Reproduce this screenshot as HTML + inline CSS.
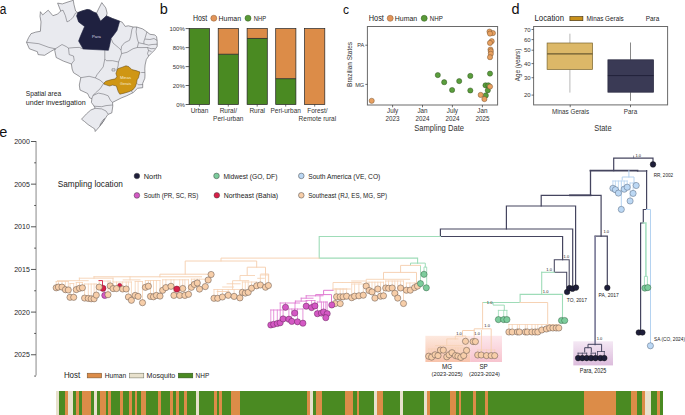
<!DOCTYPE html><html><head><meta charset="utf-8"><style>html,body{margin:0;padding:0;background:#fff;overflow:hidden}svg{display:block}text{font-family:"Liberation Sans",sans-serif}</style></head><body>
<svg width="685" height="415" viewBox="0 0 685 415">
<defs>
<linearGradient id="gMG" x1="0" y1="0" x2="0" y2="1"><stop offset="0" stop-color="#fde9df"/><stop offset="1" stop-color="#f8c3ab"/></linearGradient>
<linearGradient id="gSP" x1="0" y1="0" x2="0" y2="1"><stop offset="0" stop-color="#fde8ec"/><stop offset="1" stop-color="#f7c4cf"/></linearGradient>
<linearGradient id="gPA" x1="0" y1="0" x2="0" y2="1"><stop offset="0" stop-color="#f4e8f4"/><stop offset="1" stop-color="#dcbcdc"/></linearGradient>
</defs>
<rect width="685" height="415" fill="#fff"/>
<polygon points="40.4,11.7 42.7,14.9 48.2,10.2 52.9,15.7 57.6,14.1 60.7,11 57.6,3.1 62.3,3.9 67,2.3 71.7,0.8 73.2,0 74,4.7 75.6,11 77.9,12.6 82,11 87.2,9.5 89.9,9.9 93.2,11.9 96.5,13.2 99,8 101.8,2.6 105.8,7.9 107.1,13.2 106.4,15.9 112.4,18.5 119.7,21.2 122.2,22.2 125.2,26.4 128.3,25.8 133.1,27 136.7,27 142.7,28.9 146.9,31.9 150,34.3 154.8,34.9 156.6,36.7 157.2,41.5 157.2,46.3 154.8,49.9 151.1,53.6 148.7,56 146.3,59.6 145.1,65 144.8,68.9 145,75 144.8,78.3 142.7,83.3 142.7,87.7 137.5,88.3 133.2,92.6 126.7,95.8 121.2,98 112.5,102.4 112.8,106 111.8,112.9 108.2,114.3 106.8,116 104,120.5 100,126 97,129.5 95.2,131.5 94.8,129 92.5,127.5 88,124.5 84.5,121.5 81.5,119.2 86.5,113.8 90.8,110 95.2,108.3 94.1,106.2 91.4,102.4 91.9,98.6 89.8,98 88.7,95.8 87.6,93.5 80,90 79.3,85 80.8,77.7 79.3,76.3 73.5,72.7 72.1,69 71.4,64 63.4,61.1 56.2,57.5 54.7,50.3 55.4,48.8 50.4,51.7 44.6,55.3 38.1,54.6 37.4,51.7 29.4,48.8 26.5,42.3 28.6,37.6 31,33.7 35.7,32.1 40.4,31.3 41,21.9 40,16.4" fill="#e9eaef" stroke="#5a5a60" stroke-width="0.6" stroke-linejoin="round"/>
<polyline points="60.7,11 63,10.2 65.4,15.7 67,21.9 70,20.4 73.2,17.2 75.6,13 77.9,12.6" stroke="#5a5a60" stroke-width="0.5" fill="none" stroke-linejoin="round"/>
<polyline points="96.5,13.2 100.5,21.2 106.4,15.9" stroke="#5a5a60" stroke-width="0.5" fill="none" stroke-linejoin="round"/>
<polyline points="26.5,42.3 38.8,43.7 48.9,47.4 55.4,48.8" stroke="#5a5a60" stroke-width="0.5" fill="none" stroke-linejoin="round"/>
<polyline points="55.4,48.8 62,44.5 66.3,46.6 68.5,48.1 74,47.6 79.3,47.4 83.2,49" stroke="#5a5a60" stroke-width="0.5" fill="none" stroke-linejoin="round"/>
<polyline points="68.5,48.1 69.2,54.6 73.5,56 74.2,60.4 71.4,64" stroke="#5a5a60" stroke-width="0.5" fill="none" stroke-linejoin="round"/>
<polyline points="104.8,50.2 104.8,59.1 103.2,66.9 97,74.7 95.4,77.9 89.1,76.3 80.8,77.7" stroke="#5a5a60" stroke-width="0.5" fill="none" stroke-linejoin="round"/>
<polyline points="95.4,77.9 100.1,80.2 103.7,83.3" stroke="#5a5a60" stroke-width="0.5" fill="none" stroke-linejoin="round"/>
<polyline points="103.7,83.3 100.1,88.8 95.4,93 93,95.5 91.9,98.6" stroke="#5a5a60" stroke-width="0.5" fill="none" stroke-linejoin="round"/>
<polyline points="93,95.5 98.4,93.1 103.9,94.2 108.2,95.8 110.4,100.2 112.5,102.4" stroke="#5a5a60" stroke-width="0.5" fill="none" stroke-linejoin="round"/>
<polyline points="104.8,59.1 106.4,60.7 112.6,60.7 118.5,62" stroke="#5a5a60" stroke-width="0.5" fill="none" stroke-linejoin="round"/>
<polyline points="111,38.4 113,43 118.7,47.8 121,50.1 121.6,53.6 120.4,57 118.5,62 118.1,66 116.7,70.3" stroke="#5a5a60" stroke-width="0.5" fill="none" stroke-linejoin="round"/>
<polyline points="133.1,27 131.9,29.5 130.7,36.7 129.5,40.3 124.6,42.7 121.6,46.3 121,50.1" stroke="#5a5a60" stroke-width="0.5" fill="none" stroke-linejoin="round"/>
<polyline points="136.7,27 136.1,31.9 137.3,39.1 138.5,42.7 137.3,47.5 133.1,48.7 127,52.3 121.6,53.6" stroke="#5a5a60" stroke-width="0.5" fill="none" stroke-linejoin="round"/>
<polyline points="146.9,31.9 145.1,37.9 143.9,41.5 143.9,43.9" stroke="#5a5a60" stroke-width="0.5" fill="none" stroke-linejoin="round"/>
<polyline points="138.5,42.7 143.9,43.9 148.7,45.1 152,44.5 157.2,44.2" stroke="#5a5a60" stroke-width="0.5" fill="none" stroke-linejoin="round"/>
<polyline points="145.1,39.1 150,39.5 154,38.5 157.2,40.5" stroke="#5a5a60" stroke-width="0.5" fill="none" stroke-linejoin="round"/>
<polyline points="137.3,47.5 141,47.6 147.5,47.5 151.1,48.7 154.8,48.5" stroke="#5a5a60" stroke-width="0.5" fill="none" stroke-linejoin="round"/>
<polyline points="147.5,47.5 148.5,50.5 151.5,51.5" stroke="#5a5a60" stroke-width="0.5" fill="none" stroke-linejoin="round"/>
<polyline points="148.5,50.5 147.5,53.6 148.7,56" stroke="#5a5a60" stroke-width="0.5" fill="none" stroke-linejoin="round"/>
<polyline points="141.2,72.5 144.8,72.5" stroke="#5a5a60" stroke-width="0.5" fill="none" stroke-linejoin="round"/>
<polyline points="136.9,83.3 138.3,84.8 142.7,84.5" stroke="#5a5a60" stroke-width="0.5" fill="none" stroke-linejoin="round"/>
<polyline points="131.1,91.3 133,92.5" stroke="#5a5a60" stroke-width="0.5" fill="none" stroke-linejoin="round"/>
<polyline points="94.1,106.2 101.7,106.7 106,105.6 111.5,105.1 112.7,105" stroke="#5a5a60" stroke-width="0.5" fill="none" stroke-linejoin="round"/>
<polyline points="95.2,108.3 101.7,108.9 106,111 108.2,114.3" stroke="#5a5a60" stroke-width="0.5" fill="none" stroke-linejoin="round"/>
<polyline points="112,68.8 115,68.8 115,71 112,71 112,68.8" stroke="#5a5a60" stroke-width="0.5" fill="none" stroke-linejoin="round"/>
<polyline points="104.5,118.5 103.5,121 101.5,124 99.8,125.5 101,123 102.5,120.5 104.5,118.5" stroke="#5a5a60" stroke-width="0.5" fill="none" stroke-linejoin="round"/>
<polygon points="77.9,12.6 82,11 87.2,9.5 89.9,9.9 93.2,11.9 96.5,13.2 100.5,21.2 106.4,15.9 112.4,18.5 119.7,21.2 117,30.5 113.7,35.1 111,38.4 109.7,45 108.4,50.3 83.2,49 78.6,41.1 80.6,35.8 84.6,26.5 78.6,21.9 76.6,15.9" fill="#1f2140" stroke="#1f2140" stroke-width="0.6" stroke-linejoin="round"/>
<polygon points="103.9,83.1 105.8,81.2 110.6,79.8 115.4,78.8 116.9,76.4 115.9,73.5 116.9,70.6 117.8,68.7 122.2,67.2 126,65.8 128.9,66.7 131.8,69.6 136.1,70.6 140,72 139,75.4 138.5,77.8 137.1,79.8 136.6,83.1 135.2,87 132.8,89.9 128.9,91.8 124.1,93.2 119.8,94.2 118.3,91.8 117.3,88.9 116.4,86 112.5,85.1 109.6,86 106.7,85.1 103.9,84.1" fill="#cf9614" stroke="#5a4010" stroke-width="0.5" stroke-linejoin="round"/>
<text x="96.5" y="38.3" font-size="4.2" fill="#d8d8e0" text-anchor="middle" >Para</text>
<text x="125.5" y="79.4" font-size="4.3" fill="#f6ecd6" text-anchor="middle" textLength="10.9" lengthAdjust="spacingAndGlyphs" >Minas</text>
<text x="125.6" y="84.6" font-size="4.3" fill="#f6ecd6" text-anchor="middle" textLength="11.1" lengthAdjust="spacingAndGlyphs" >Gerais</text>
<text x="25.8" y="96.4" font-size="7.6" fill="#222" text-anchor="start" textLength="35.3" lengthAdjust="spacingAndGlyphs" >Spatial area</text>
<text x="25.8" y="105.1" font-size="7.6" fill="#222" text-anchor="start" textLength="59.8" lengthAdjust="spacingAndGlyphs" >under investigation</text>
<text x="-0.2" y="13.8" font-size="14.0" fill="#111" text-anchor="start" textLength="6.6" lengthAdjust="spacingAndGlyphs" >a</text>
<text x="159.8" y="13.7" font-size="14.5" fill="#111" text-anchor="start" >b</text>
<text x="192.9" y="21" font-size="8.2" fill="#222" text-anchor="start" textLength="14.4" lengthAdjust="spacingAndGlyphs" >Host</text>
<circle cx="213.8" cy="18.2" r="3.0" fill="#e3955a" stroke="#8a5a30" stroke-width="0.5"/>
<text x="218.6" y="21" font-size="7.6" fill="#222" text-anchor="start" textLength="22.4" lengthAdjust="spacingAndGlyphs" >Human</text>
<circle cx="248" cy="18.2" r="3.0" fill="#5a9a38" stroke="#2a5a18" stroke-width="0.5"/>
<text x="253.8" y="21" font-size="7.6" fill="#222" text-anchor="start" textLength="12.3" lengthAdjust="spacingAndGlyphs" >NHP</text>
<line x1="189.2" y1="28.6" x2="189.2" y2="104.6" stroke="#333" stroke-width="0.8"/>
<line x1="185.6" y1="28.6" x2="189.2" y2="28.6" stroke="#333" stroke-width="0.8"/>
<text x="184.8" y="30.700000000000003" font-size="6.0" fill="#333" text-anchor="end" >100%</text>
<line x1="185.6" y1="47.6" x2="189.2" y2="47.6" stroke="#333" stroke-width="0.8"/>
<text x="184.8" y="49.7" font-size="6.0" fill="#333" text-anchor="end" >80%</text>
<line x1="185.6" y1="66.6" x2="189.2" y2="66.6" stroke="#333" stroke-width="0.8"/>
<text x="184.8" y="68.69999999999999" font-size="6.0" fill="#333" text-anchor="end" >50%</text>
<line x1="185.6" y1="85.5" x2="189.2" y2="85.5" stroke="#333" stroke-width="0.8"/>
<text x="184.8" y="87.6" font-size="6.0" fill="#333" text-anchor="end" >20%</text>
<line x1="185.6" y1="104.5" x2="189.2" y2="104.5" stroke="#333" stroke-width="0.8"/>
<text x="184.8" y="106.6" font-size="6.0" fill="#333" text-anchor="end" >0%</text>
<rect x="189.3" y="28.6" width="20.2" height="75.9" fill="#4a8a22" stroke="none" stroke-width="0.6" />
<rect x="189.3" y="28.6" width="20.2" height="75.9" fill="none" stroke="#222" stroke-width="0.7" />
<rect x="218.2" y="28.6" width="20.2" height="25.654200000000003" fill="#dc8c48" stroke="none" stroke-width="0.6" />
<rect x="218.2" y="54.254200000000004" width="20.2" height="50.2458" fill="#4a8a22" stroke="none" stroke-width="0.6" />
<rect x="218.2" y="28.6" width="20.2" height="75.9" fill="none" stroke="#222" stroke-width="0.7" />
<line x1="218.2" y1="54.254200000000004" x2="238.39999999999998" y2="54.254200000000004" stroke="#222" stroke-width="0.8"/>
<rect x="247.1" y="28.6" width="20.2" height="9.867" fill="#dc8c48" stroke="none" stroke-width="0.6" />
<rect x="247.1" y="38.467" width="20.2" height="66.033" fill="#4a8a22" stroke="none" stroke-width="0.6" />
<rect x="247.1" y="28.6" width="20.2" height="75.9" fill="none" stroke="#222" stroke-width="0.7" />
<line x1="247.1" y1="38.467" x2="267.3" y2="38.467" stroke="#222" stroke-width="0.8"/>
<rect x="275.7" y="28.6" width="20.2" height="50.09400000000001" fill="#dc8c48" stroke="none" stroke-width="0.6" />
<rect x="275.7" y="78.69400000000002" width="20.2" height="25.805999999999997" fill="#4a8a22" stroke="none" stroke-width="0.6" />
<rect x="275.7" y="28.6" width="20.2" height="75.9" fill="none" stroke="#222" stroke-width="0.7" />
<line x1="275.7" y1="78.69400000000002" x2="295.9" y2="78.69400000000002" stroke="#222" stroke-width="0.8"/>
<rect x="304.6" y="28.6" width="20.2" height="75.9" fill="#dc8c48" stroke="none" stroke-width="0.6" />
<rect x="304.6" y="28.6" width="20.2" height="75.9" fill="none" stroke="#222" stroke-width="0.7" />
<line x1="199.4" y1="104.6" x2="199.4" y2="106.6" stroke="#333" stroke-width="0.7"/>
<line x1="228.3" y1="104.6" x2="228.3" y2="106.6" stroke="#333" stroke-width="0.7"/>
<line x1="257.2" y1="104.6" x2="257.2" y2="106.6" stroke="#333" stroke-width="0.7"/>
<line x1="285.7" y1="104.6" x2="285.7" y2="106.6" stroke="#333" stroke-width="0.7"/>
<line x1="314.7" y1="104.6" x2="314.7" y2="106.6" stroke="#333" stroke-width="0.7"/>
<text x="199.5" y="113.3" font-size="6.5" fill="#333" text-anchor="middle" >Urban</text>
<text x="228.3" y="113.3" font-size="6.5" fill="#333" text-anchor="middle" >Rural/</text>
<text x="228.3" y="121.0" font-size="6.5" fill="#333" text-anchor="middle" >Peri-urban</text>
<text x="257.2" y="113.3" font-size="6.5" fill="#333" text-anchor="middle" >Rural</text>
<text x="285.7" y="113.3" font-size="6.5" fill="#333" text-anchor="middle" >Peri-urban</text>
<text x="317.4" y="113.3" font-size="6.5" fill="#333" text-anchor="middle" >Forest/</text>
<text x="317.4" y="121.0" font-size="6.5" fill="#333" text-anchor="middle" >Remote rural</text>
<text x="343.1" y="13.9" font-size="13.6" fill="#111" text-anchor="start" textLength="6.0" lengthAdjust="spacingAndGlyphs" >c</text>
<text x="368.7" y="21" font-size="8.2" fill="#222" text-anchor="start" textLength="15.2" lengthAdjust="spacingAndGlyphs" >Host</text>
<circle cx="390.2" cy="18.3" r="3.0" fill="#e3955a" stroke="#8a5a30" stroke-width="0.5"/>
<text x="394.8" y="21" font-size="7.6" fill="#222" text-anchor="start" textLength="22.4" lengthAdjust="spacingAndGlyphs" >Human</text>
<circle cx="424.2" cy="18.3" r="3.0" fill="#5a9a38" stroke="#2a5a18" stroke-width="0.5"/>
<text x="429.8" y="21" font-size="7.6" fill="#222" text-anchor="start" textLength="13.0" lengthAdjust="spacingAndGlyphs" >NHP</text>
<rect x="367.4" y="26.5" width="130.2" height="78.5" fill="none" stroke="#6a6a6a" stroke-width="1.0" />
<line x1="365.3" y1="45.2" x2="367.4" y2="45.2" stroke="#333" stroke-width="0.7"/>
<text x="364.2" y="47.3" font-size="5.6" fill="#333" text-anchor="end" >PA</text>
<line x1="365.3" y1="84.4" x2="367.4" y2="84.4" stroke="#333" stroke-width="0.7"/>
<text x="364.2" y="86.5" font-size="5.6" fill="#333" text-anchor="end" >MG</text>
<text x="0" y="0" font-size="7.3" fill="#333" text-anchor="middle" textLength="45" lengthAdjust="spacingAndGlyphs" transform="translate(351.8,64.4) rotate(-90)">Brazilian States</text>
<line x1="392.6" y1="105" x2="392.6" y2="107.3" stroke="#333" stroke-width="0.7"/>
<text x="392.6" y="113.0" font-size="6.3" fill="#333" text-anchor="middle" >July</text>
<text x="392.6" y="121.0" font-size="6.3" fill="#333" text-anchor="middle" >2023</text>
<line x1="422.5" y1="105" x2="422.5" y2="107.3" stroke="#333" stroke-width="0.7"/>
<text x="422.5" y="113.0" font-size="6.3" fill="#333" text-anchor="middle" >Jan</text>
<text x="422.5" y="121.0" font-size="6.3" fill="#333" text-anchor="middle" >2024</text>
<line x1="452.4" y1="105" x2="452.4" y2="107.3" stroke="#333" stroke-width="0.7"/>
<text x="452.4" y="113.0" font-size="6.3" fill="#333" text-anchor="middle" >July</text>
<text x="452.4" y="121.0" font-size="6.3" fill="#333" text-anchor="middle" >2024</text>
<line x1="482.4" y1="105" x2="482.4" y2="107.3" stroke="#333" stroke-width="0.7"/>
<text x="482.4" y="113.0" font-size="6.3" fill="#333" text-anchor="middle" >Jan</text>
<text x="482.4" y="121.0" font-size="6.3" fill="#333" text-anchor="middle" >2025</text>
<text x="439.1" y="131.1" font-size="8.5" fill="#333" text-anchor="middle" textLength="49.8" lengthAdjust="spacingAndGlyphs" >Sampling Date</text>
<circle cx="437.8" cy="75.1" r="2.6" fill="#5a9e3c" stroke="#2a4a1a" stroke-width="0.45"/>
<circle cx="444.2" cy="82.2" r="2.6" fill="#5a9e3c" stroke="#2a4a1a" stroke-width="0.45"/>
<circle cx="459.2" cy="81.1" r="2.6" fill="#5a9e3c" stroke="#2a4a1a" stroke-width="0.45"/>
<circle cx="470.3" cy="75.9" r="2.6" fill="#5a9e3c" stroke="#2a4a1a" stroke-width="0.45"/>
<circle cx="452.1" cy="90" r="2.6" fill="#5a9e3c" stroke="#2a4a1a" stroke-width="0.45"/>
<circle cx="470.3" cy="90.5" r="2.6" fill="#5a9e3c" stroke="#2a4a1a" stroke-width="0.45"/>
<circle cx="490" cy="73.6" r="2.6" fill="#5a9e3c" stroke="#2a4a1a" stroke-width="0.45"/>
<circle cx="485.5" cy="85.3" r="2.6" fill="#5a9e3c" stroke="#2a4a1a" stroke-width="0.45"/>
<circle cx="488.3" cy="85.3" r="2.6" fill="#5a9e3c" stroke="#2a4a1a" stroke-width="0.45"/>
<circle cx="487.8" cy="90.3" r="2.6" fill="#5a9e3c" stroke="#2a4a1a" stroke-width="0.45"/>
<circle cx="485.8" cy="95.4" r="2.6" fill="#5a9e3c" stroke="#2a4a1a" stroke-width="0.45"/>
<circle cx="371.7" cy="100.8" r="2.6" fill="#e8a060" stroke="#6a4a2a" stroke-width="0.45"/>
<circle cx="489.5" cy="31.6" r="2.6" fill="#e8a060" stroke="#6a4a2a" stroke-width="0.45"/>
<circle cx="492.9" cy="33.1" r="2.6" fill="#e8a060" stroke="#6a4a2a" stroke-width="0.45"/>
<circle cx="490" cy="33.6" r="2.6" fill="#e8a060" stroke="#6a4a2a" stroke-width="0.45"/>
<circle cx="491.7" cy="41.2" r="2.6" fill="#e8a060" stroke="#6a4a2a" stroke-width="0.45"/>
<circle cx="490" cy="42.9" r="2.6" fill="#e8a060" stroke="#6a4a2a" stroke-width="0.45"/>
<circle cx="490.5" cy="49.6" r="2.6" fill="#e8a060" stroke="#6a4a2a" stroke-width="0.45"/>
<circle cx="490.8" cy="51.3" r="2.6" fill="#e8a060" stroke="#6a4a2a" stroke-width="0.45"/>
<circle cx="490.8" cy="53.8" r="2.6" fill="#e8a060" stroke="#6a4a2a" stroke-width="0.45"/>
<circle cx="490" cy="57.2" r="2.6" fill="#e8a060" stroke="#6a4a2a" stroke-width="0.45"/>
<circle cx="490" cy="86.6" r="2.6" fill="#e8a060" stroke="#6a4a2a" stroke-width="0.45"/>
<circle cx="480.7" cy="94.9" r="2.6" fill="#e8a060" stroke="#6a4a2a" stroke-width="0.45"/>
<circle cx="484.4" cy="99.1" r="2.6" fill="#e8a060" stroke="#6a4a2a" stroke-width="0.45"/>
<text x="511.4" y="13.8" font-size="14.5" fill="#111" text-anchor="start" >d</text>
<text x="534.5" y="21" font-size="8.2" fill="#222" text-anchor="start" textLength="29.5" lengthAdjust="spacingAndGlyphs" >Location</text>
<rect x="569.9" y="16.5" width="13" height="4.2" fill="#c8901a" stroke="#3a2a10" stroke-width="0.6" />
<text x="586.5" y="21" font-size="7.6" fill="#222" text-anchor="start" textLength="37.2" lengthAdjust="spacingAndGlyphs" >Minas Gerais</text>
<text x="645.7" y="21" font-size="7.6" fill="#222" text-anchor="start" textLength="13.5" lengthAdjust="spacingAndGlyphs" >Para</text>
<rect x="533.6" y="26.5" width="134.0" height="78.4" fill="none" stroke="#6a6a6a" stroke-width="1.0" />
<line x1="531.5" y1="29.5" x2="533.6" y2="29.5" stroke="#333" stroke-width="0.7"/>
<text x="530.6" y="31.6" font-size="6.0" fill="#333" text-anchor="end" >70</text>
<line x1="531.5" y1="39.6" x2="533.6" y2="39.6" stroke="#333" stroke-width="0.7"/>
<text x="530.6" y="41.7" font-size="6.0" fill="#333" text-anchor="end" >60</text>
<line x1="531.5" y1="50.2" x2="533.6" y2="50.2" stroke="#333" stroke-width="0.7"/>
<text x="530.6" y="52.300000000000004" font-size="6.0" fill="#333" text-anchor="end" >50</text>
<line x1="531.5" y1="63.6" x2="533.6" y2="63.6" stroke="#333" stroke-width="0.7"/>
<text x="530.6" y="65.7" font-size="6.0" fill="#333" text-anchor="end" >40</text>
<line x1="531.5" y1="77.7" x2="533.6" y2="77.7" stroke="#333" stroke-width="0.7"/>
<text x="530.6" y="79.8" font-size="6.0" fill="#333" text-anchor="end" >30</text>
<line x1="531.5" y1="95.1" x2="533.6" y2="95.1" stroke="#333" stroke-width="0.7"/>
<text x="530.6" y="97.19999999999999" font-size="6.0" fill="#333" text-anchor="end" >20</text>
<text x="0" y="0" font-size="7.3" fill="#333" text-anchor="middle" textLength="32.6" lengthAdjust="spacingAndGlyphs" transform="translate(520.4,65) rotate(-90)">Age (years)</text>
<line x1="569.9" y1="33.7" x2="569.9" y2="43" stroke="#999" stroke-width="0.7"/>
<line x1="569.9" y1="69.5" x2="569.9" y2="92.6" stroke="#999" stroke-width="0.7"/>
<rect x="547.1" y="43" width="45.5" height="26.5" fill="#dcb868" stroke="#7a6530" stroke-width="0.7" />
<line x1="547.1" y1="53.9" x2="592.6" y2="53.9" stroke="#6a5a30" stroke-width="1.1"/>
<line x1="630.5" y1="42.5" x2="630.5" y2="59.8" stroke="#555" stroke-width="0.7"/>
<line x1="630.5" y1="92.2" x2="630.5" y2="100.9" stroke="#555" stroke-width="0.7"/>
<rect x="607.9" y="59.8" width="45.7" height="32.4" fill="#3a3a55" stroke="#2a2a40" stroke-width="0.7" />
<line x1="607.9" y1="75.6" x2="653.6" y2="75.6" stroke="#22223a" stroke-width="1.0"/>
<line x1="570.2" y1="104.9" x2="570.2" y2="107.2" stroke="#333" stroke-width="0.7"/>
<line x1="630.5" y1="104.9" x2="630.5" y2="107.2" stroke="#333" stroke-width="0.7"/>
<text x="570.5" y="113.6" font-size="6.3" fill="#333" text-anchor="middle" >Minas Gerais</text>
<text x="630.5" y="113.6" font-size="6.3" fill="#333" text-anchor="middle" >Para</text>
<text x="602.9" y="131" font-size="8.3" fill="#333" text-anchor="middle" textLength="17.4" lengthAdjust="spacingAndGlyphs" >State</text>
<text x="-0.8" y="136.9" font-size="14.5" fill="#111" text-anchor="start" >e</text>
<line x1="36.1" y1="141" x2="36.1" y2="375.5" stroke="#bdbdbd" stroke-width="1.8"/>
<line x1="31" y1="141.5" x2="36" y2="141.5" stroke="#444" stroke-width="0.9"/>
<text x="29.8" y="144.1" font-size="7.6" fill="#222" text-anchor="end" textLength="15.6" lengthAdjust="spacingAndGlyphs" >2000</text>
<line x1="31" y1="184.15" x2="36" y2="184.15" stroke="#444" stroke-width="0.9"/>
<text x="29.8" y="186.75" font-size="7.6" fill="#222" text-anchor="end" textLength="15.6" lengthAdjust="spacingAndGlyphs" >2005</text>
<line x1="31" y1="226.8" x2="36" y2="226.8" stroke="#444" stroke-width="0.9"/>
<text x="29.8" y="229.4" font-size="7.6" fill="#222" text-anchor="end" textLength="15.6" lengthAdjust="spacingAndGlyphs" >2010</text>
<line x1="31" y1="269.45" x2="36" y2="269.45" stroke="#444" stroke-width="0.9"/>
<text x="29.8" y="272.05" font-size="7.6" fill="#222" text-anchor="end" textLength="15.6" lengthAdjust="spacingAndGlyphs" >2015</text>
<line x1="31" y1="312.1" x2="36" y2="312.1" stroke="#444" stroke-width="0.9"/>
<text x="29.8" y="314.70000000000005" font-size="7.6" fill="#222" text-anchor="end" textLength="15.6" lengthAdjust="spacingAndGlyphs" >2020</text>
<line x1="31" y1="354.75" x2="36" y2="354.75" stroke="#444" stroke-width="0.9"/>
<text x="29.8" y="357.35" font-size="7.6" fill="#222" text-anchor="end" textLength="15.6" lengthAdjust="spacingAndGlyphs" >2025</text>
<line x1="34.2" y1="162.825" x2="36" y2="162.825" stroke="#444" stroke-width="0.9"/>
<line x1="34.2" y1="205.475" x2="36" y2="205.475" stroke="#444" stroke-width="0.9"/>
<line x1="34.2" y1="248.125" x2="36" y2="248.125" stroke="#444" stroke-width="0.9"/>
<line x1="34.2" y1="290.775" x2="36" y2="290.775" stroke="#444" stroke-width="0.9"/>
<line x1="34.2" y1="333.42499999999995" x2="36" y2="333.42499999999995" stroke="#444" stroke-width="0.9"/>
<line x1="34.2" y1="376.075" x2="36" y2="376.075" stroke="#444" stroke-width="0.9"/>
<text x="57.7" y="187.2" font-size="8.8" fill="#222" text-anchor="start" textLength="65.2" lengthAdjust="spacingAndGlyphs" >Sampling location</text>
<circle cx="136.9" cy="176" r="2.8" fill="#1e1e3a" stroke="#444" stroke-width="0.5"/>
<text x="143.8" y="179.0" font-size="7.2" fill="#222" text-anchor="start" textLength="17.9" lengthAdjust="spacingAndGlyphs" >North</text>
<circle cx="136.9" cy="195.4" r="2.8" fill="#d458c4" stroke="#444" stroke-width="0.5"/>
<text x="143.8" y="198.4" font-size="7.2" fill="#222" text-anchor="start" textLength="54.5" lengthAdjust="spacingAndGlyphs" >South (PR, SC, RS)</text>
<circle cx="216.5" cy="175.9" r="2.8" fill="#7ccc9c" stroke="#444" stroke-width="0.5"/>
<text x="223.4" y="178.9" font-size="7.2" fill="#222" text-anchor="start" textLength="54.0" lengthAdjust="spacingAndGlyphs" >Midwest (GO, DF)</text>
<circle cx="216.8" cy="195.3" r="2.8" fill="#d81f48" stroke="#444" stroke-width="0.5"/>
<text x="223.70000000000002" y="198.3" font-size="7.2" fill="#222" text-anchor="start" textLength="54.5" lengthAdjust="spacingAndGlyphs" >Northeast (Bahia)</text>
<circle cx="301.3" cy="175.9" r="2.8" fill="#bcd8f4" stroke="#444" stroke-width="0.5"/>
<text x="308.2" y="178.9" font-size="7.2" fill="#222" text-anchor="start" textLength="72.1" lengthAdjust="spacingAndGlyphs" >South America (VE, CO)</text>
<circle cx="301.3" cy="195.3" r="2.8" fill="#f7cea9" stroke="#444" stroke-width="0.5"/>
<text x="308.2" y="198.3" font-size="7.2" fill="#222" text-anchor="start" textLength="78.9" lengthAdjust="spacingAndGlyphs" >Southeast (RJ, ES, MG, SP)</text>
<rect x="425.4" y="335.8" width="44.7" height="26.2" fill="url(#gMG)" stroke="none" stroke-width="0.6" />
<rect x="470.1" y="335.8" width="31.9" height="26.2" fill="url(#gSP)" stroke="none" stroke-width="0.6" />
<rect x="573.3" y="341.3" width="39.7" height="24.1" fill="url(#gPA)" stroke="none" stroke-width="0.6" />
<polyline points="613.7,170.6 613.7,158.2 653,158.2 653,164" stroke="#45455f" stroke-width="1.2" fill="none" stroke-linejoin="miter" stroke-linecap="square"/>
<line x1="633.6" y1="155.6" x2="633.6" y2="158.2" stroke="#45455f" stroke-width="0.6"/>
<polyline points="590.5,170.6 637.5,170.6" stroke="#45455f" stroke-width="1.8" fill="none" stroke-linejoin="miter" stroke-linecap="square"/>
<polyline points="637.5,171 646.6,171" stroke="#45455f" stroke-width="1.2" fill="none" stroke-linejoin="miter" stroke-linecap="square"/>
<polyline points="590.5,170.6 590.5,195.3" stroke="#45455f" stroke-width="1.3" fill="none" stroke-linejoin="miter" stroke-linecap="square"/>
<polyline points="541.2,206 541.2,195.3 601.1,195.3 601.1,236.1" stroke="#45455f" stroke-width="1.2" fill="none" stroke-linejoin="miter" stroke-linecap="square"/>
<polyline points="570,195.3 590.5,195.3" stroke="#45455f" stroke-width="1.8" fill="none" stroke-linejoin="miter" stroke-linecap="square"/>
<polyline points="595.1,236.1 607.3,236.1 607.3,287" stroke="#45455f" stroke-width="1.2" fill="none" stroke-linejoin="miter" stroke-linecap="square"/>
<polyline points="595.1,344.3 595.1,236.6" stroke="#7e7e9a" stroke-width="1.7" fill="none" stroke-linejoin="miter" stroke-linecap="square"/>
<polyline points="575.6,287 575.6,206 506.4,206 506.4,229" stroke="#45455f" stroke-width="1.2" fill="none" stroke-linejoin="miter" stroke-linecap="square"/>
<polyline points="572.7,288 572.7,229 440.4,229 440.4,236.5 562.6,236.5 562.6,259.7" stroke="#45455f" stroke-width="1.2" fill="none" stroke-linejoin="miter" stroke-linecap="square"/>
<polyline points="569.2,288 569.2,259.7 554.3,259.7 554.3,272.3 566.7,272.3 566.7,291" stroke="#45455f" stroke-width="1.05" fill="none" stroke-linejoin="miter" stroke-linecap="square"/>
<polyline points="646.6,170.6 646.6,209.5 643.3,209.5 643.3,223 640.6,223 640.6,332" stroke="#45455f" stroke-width="1.2" fill="none" stroke-linejoin="miter" stroke-linecap="square"/>
<polyline points="588,347.7 588,344.3 601.6,344.3 601.6,351.5" stroke="#45455f" stroke-width="1.0" fill="none" stroke-linejoin="miter" stroke-linecap="square"/>
<polyline points="584.7,352 584.7,347.7 591.3,347.7 591.3,352" stroke="#45455f" stroke-width="1.0" fill="none" stroke-linejoin="miter" stroke-linecap="square"/>
<polyline points="578.1,353.2 586.7,353.2" stroke="#45455f" stroke-width="0.8" fill="none" stroke-linejoin="miter" stroke-linecap="square"/>
<polyline points="578.1,353.2 578.1,358" stroke="#45455f" stroke-width="0.8" fill="none" stroke-linejoin="miter" stroke-linecap="square"/>
<polyline points="582.3,353.2 582.3,358" stroke="#45455f" stroke-width="0.8" fill="none" stroke-linejoin="miter" stroke-linecap="square"/>
<polyline points="586.7,353.2 586.7,358" stroke="#45455f" stroke-width="0.8" fill="none" stroke-linejoin="miter" stroke-linecap="square"/>
<polyline points="591.1,353.2 595.5,353.2" stroke="#45455f" stroke-width="0.8" fill="none" stroke-linejoin="miter" stroke-linecap="square"/>
<polyline points="591.1,353.2 591.1,358" stroke="#45455f" stroke-width="0.8" fill="none" stroke-linejoin="miter" stroke-linecap="square"/>
<polyline points="595.5,353.2 595.5,358" stroke="#45455f" stroke-width="0.8" fill="none" stroke-linejoin="miter" stroke-linecap="square"/>
<polyline points="597.5,351.5 604.3,351.5" stroke="#45455f" stroke-width="0.8" fill="none" stroke-linejoin="miter" stroke-linecap="square"/>
<polyline points="597.5,351.5 597.5,358" stroke="#45455f" stroke-width="0.8" fill="none" stroke-linejoin="miter" stroke-linecap="square"/>
<polyline points="604.3,351.5 604.3,358" stroke="#45455f" stroke-width="0.8" fill="none" stroke-linejoin="miter" stroke-linecap="square"/>
<polyline points="628.9,170.6 628.9,177" stroke="#b4d2f0" stroke-width="1.0" fill="none" stroke-linejoin="miter" stroke-linecap="square"/>
<polyline points="622.2,180 622.2,177 634,177 634,183" stroke="#b4d2f0" stroke-width="1.0" fill="none" stroke-linejoin="miter" stroke-linecap="square"/>
<polyline points="630.1,183 636.2,183" stroke="#b4d2f0" stroke-width="0.8" fill="none" stroke-linejoin="miter" stroke-linecap="square"/>
<polyline points="630.1,183 630.1,201" stroke="#b4d2f0" stroke-width="0.8" fill="none" stroke-linejoin="miter" stroke-linecap="square"/>
<polyline points="633.1,183 633.1,193.4" stroke="#b4d2f0" stroke-width="0.8" fill="none" stroke-linejoin="miter" stroke-linecap="square"/>
<polyline points="636.2,183 636.2,185.5" stroke="#b4d2f0" stroke-width="0.8" fill="none" stroke-linejoin="miter" stroke-linecap="square"/>
<polyline points="612.9,181 627.2,181" stroke="#b4d2f0" stroke-width="0.8" fill="none" stroke-linejoin="miter" stroke-linecap="square"/>
<polyline points="612.9,181 612.9,188.3" stroke="#b4d2f0" stroke-width="0.8" fill="none" stroke-linejoin="miter" stroke-linecap="square"/>
<polyline points="615.4,181 615.4,189.7" stroke="#b4d2f0" stroke-width="0.8" fill="none" stroke-linejoin="miter" stroke-linecap="square"/>
<polyline points="618.4,181 618.4,193.1" stroke="#b4d2f0" stroke-width="0.8" fill="none" stroke-linejoin="miter" stroke-linecap="square"/>
<polyline points="624.2,181 624.2,189.2" stroke="#b4d2f0" stroke-width="0.8" fill="none" stroke-linejoin="miter" stroke-linecap="square"/>
<polyline points="627.2,181 627.2,187.2" stroke="#b4d2f0" stroke-width="0.8" fill="none" stroke-linejoin="miter" stroke-linecap="square"/>
<polyline points="621.3,181 621.3,209" stroke="#b4d2f0" stroke-width="1.0" fill="none" stroke-linejoin="miter" stroke-linecap="square"/>
<polyline points="646.6,209.5 650.5,209.5 650.5,345" stroke="#b4d2f0" stroke-width="1.0" fill="none" stroke-linejoin="miter" stroke-linecap="square"/>
<polyline points="440.4,236.5 319.2,236.5 319.2,258.1 417.6,258.1 417.6,263.1" stroke="#9edcb8" stroke-width="1.1" fill="none" stroke-linejoin="miter" stroke-linecap="square"/>
<polyline points="410.5,265.5 410.5,263.1 425.3,263.1 425.3,267" stroke="#9edcb8" stroke-width="1.0" fill="none" stroke-linejoin="miter" stroke-linecap="square"/>
<polyline points="424,274 424,267 426.7,267 426.7,287" stroke="#9edcb8" stroke-width="0.9" fill="none" stroke-linejoin="miter" stroke-linecap="square"/>
<polyline points="420.5,265.6 420.5,283" stroke="#9edcb8" stroke-width="0.9" fill="none" stroke-linejoin="miter" stroke-linecap="square"/>
<polyline points="541.7,272.3 554.3,272.3" stroke="#9edcb8" stroke-width="1.1" fill="none" stroke-linejoin="miter" stroke-linecap="square"/>
<polyline points="520.1,302.5 520.1,294.4 562.5,294.4 562.5,318" stroke="#9edcb8" stroke-width="1.1" fill="none" stroke-linejoin="miter" stroke-linecap="square"/>
<polyline points="541.7,272.3 541.7,294.4" stroke="#9edcb8" stroke-width="1.1" fill="none" stroke-linejoin="miter" stroke-linecap="square"/>
<polyline points="482.6,302.5 520.1,302.5" stroke="#9edcb8" stroke-width="1.1" fill="none" stroke-linejoin="miter" stroke-linecap="square"/>
<polyline points="493.1,302.5 493.1,305.1 504.3,305.1 504.3,310.4" stroke="#9edcb8" stroke-width="1.0" fill="none" stroke-linejoin="miter" stroke-linecap="square"/>
<polyline points="498.4,310.4 506.9,310.4" stroke="#9edcb8" stroke-width="0.8" fill="none" stroke-linejoin="miter" stroke-linecap="square"/>
<polyline points="498.4,310.4 498.4,319" stroke="#9edcb8" stroke-width="0.8" fill="none" stroke-linejoin="miter" stroke-linecap="square"/>
<polyline points="503.7,310.4 503.7,319" stroke="#9edcb8" stroke-width="0.8" fill="none" stroke-linejoin="miter" stroke-linecap="square"/>
<polyline points="506.9,310.4 506.9,319" stroke="#9edcb8" stroke-width="0.8" fill="none" stroke-linejoin="miter" stroke-linecap="square"/>
<polyline points="643.3,223 645.9,223 645.9,276.3" stroke="#a6e0c0" stroke-width="1.6" fill="none" stroke-linejoin="miter" stroke-linecap="square"/>
<polyline points="644.4,285 644.4,276.3 647.4,276.3 647.4,285" stroke="#a6e0c0" stroke-width="1.0" fill="none" stroke-linejoin="miter" stroke-linecap="square"/>
<polyline points="221,261 221,258.1 319.2,258.1" stroke="#f6d2b4" stroke-width="1.0" fill="none" stroke-linejoin="miter" stroke-linecap="square"/>
<polyline points="185.2,274.2 185.2,261 256.7,261 256.7,267.2" stroke="#f6d2b4" stroke-width="1.0" fill="none" stroke-linejoin="miter" stroke-linecap="square"/>
<polyline points="247.2,275.5 247.2,267.2 265.5,267.2 265.5,275" stroke="#f6d2b4" stroke-width="1.0" fill="none" stroke-linejoin="miter" stroke-linecap="square"/>
<polyline points="240,280.5 240,275.5 254.5,275.5" stroke="#f6d2b4" stroke-width="0.9" fill="none" stroke-linejoin="miter" stroke-linecap="square"/>
<polyline points="232.6,283.5 232.6,280.7 248.7,280.7" stroke="#f6d2b4" stroke-width="0.9" fill="none" stroke-linejoin="miter" stroke-linecap="square"/>
<polyline points="159.9,276.8 159.9,274.2 209.6,274.2 209.6,278" stroke="#f6d2b4" stroke-width="1.0" fill="none" stroke-linejoin="miter" stroke-linecap="square"/>
<polyline points="94,276.8 201.5,276.8" stroke="#f6d2b4" stroke-width="1.0" fill="none" stroke-linejoin="miter" stroke-linecap="square"/>
<polyline points="57.5,280.7 88.2,280.7" stroke="#f6d2b4" stroke-width="0.9" fill="none" stroke-linejoin="miter" stroke-linecap="square"/>
<polyline points="79.4,278.2 113,278.2" stroke="#f6d2b4" stroke-width="0.9" fill="none" stroke-linejoin="miter" stroke-linecap="square"/>
<polyline points="79.4,278.2 79.4,280.7" stroke="#f6d2b4" stroke-width="0.9" fill="none" stroke-linejoin="miter" stroke-linecap="square"/>
<polyline points="94,276.8 94,278.2" stroke="#f6d2b4" stroke-width="0.9" fill="none" stroke-linejoin="miter" stroke-linecap="square"/>
<polyline points="123.2,279.9 140,279.9" stroke="#f6d2b4" stroke-width="0.9" fill="none" stroke-linejoin="miter" stroke-linecap="square"/>
<polyline points="130,276.8 130,279.9" stroke="#f6d2b4" stroke-width="0.9" fill="none" stroke-linejoin="miter" stroke-linecap="square"/>
<polyline points="113,278.2 113,281.5" stroke="#f6d2b4" stroke-width="0.9" fill="none" stroke-linejoin="miter" stroke-linecap="square"/>
<polyline points="56.2,281.5 68.3,281.5" stroke="#f6d2b4" stroke-width="0.8" fill="none" stroke-linejoin="miter" stroke-linecap="square"/>
<polyline points="56.2,281.5 56.2,287.8" stroke="#f6d2b4" stroke-width="0.8" fill="none" stroke-linejoin="miter" stroke-linecap="square"/>
<polyline points="58.4,281.5 58.4,287.1" stroke="#f6d2b4" stroke-width="0.8" fill="none" stroke-linejoin="miter" stroke-linecap="square"/>
<polyline points="62,281.5 62,287.1" stroke="#f6d2b4" stroke-width="0.8" fill="none" stroke-linejoin="miter" stroke-linecap="square"/>
<polyline points="65.4,281.5 65.4,289.7" stroke="#f6d2b4" stroke-width="0.8" fill="none" stroke-linejoin="miter" stroke-linecap="square"/>
<polyline points="68.3,281.5 68.3,290" stroke="#f6d2b4" stroke-width="0.8" fill="none" stroke-linejoin="miter" stroke-linecap="square"/>
<polyline points="70,283.5 73.7,283.5" stroke="#f6d2b4" stroke-width="0.8" fill="none" stroke-linejoin="miter" stroke-linecap="square"/>
<polyline points="70,283.5 70,297.3" stroke="#f6d2b4" stroke-width="0.8" fill="none" stroke-linejoin="miter" stroke-linecap="square"/>
<polyline points="73.7,283.5 73.7,297.3" stroke="#f6d2b4" stroke-width="0.8" fill="none" stroke-linejoin="miter" stroke-linecap="square"/>
<polyline points="76.3,282.5 82.4,282.5" stroke="#f6d2b4" stroke-width="0.8" fill="none" stroke-linejoin="miter" stroke-linecap="square"/>
<polyline points="76.3,282.5 76.3,289.6" stroke="#f6d2b4" stroke-width="0.8" fill="none" stroke-linejoin="miter" stroke-linecap="square"/>
<polyline points="79.5,282.5 79.5,288.3" stroke="#f6d2b4" stroke-width="0.8" fill="none" stroke-linejoin="miter" stroke-linecap="square"/>
<polyline points="82.4,282.5 82.4,287.8" stroke="#f6d2b4" stroke-width="0.8" fill="none" stroke-linejoin="miter" stroke-linecap="square"/>
<polyline points="84.6,284 96.3,284" stroke="#f6d2b4" stroke-width="0.8" fill="none" stroke-linejoin="miter" stroke-linecap="square"/>
<polyline points="84.6,284 84.6,298.1" stroke="#f6d2b4" stroke-width="0.8" fill="none" stroke-linejoin="miter" stroke-linecap="square"/>
<polyline points="88.3,284 88.3,298.4" stroke="#f6d2b4" stroke-width="0.8" fill="none" stroke-linejoin="miter" stroke-linecap="square"/>
<polyline points="91.2,284 91.2,298.8" stroke="#f6d2b4" stroke-width="0.8" fill="none" stroke-linejoin="miter" stroke-linecap="square"/>
<polyline points="94.1,284 94.1,298.8" stroke="#f6d2b4" stroke-width="0.8" fill="none" stroke-linejoin="miter" stroke-linecap="square"/>
<polyline points="96.3,284 96.3,295.1" stroke="#f6d2b4" stroke-width="0.8" fill="none" stroke-linejoin="miter" stroke-linecap="square"/>
<polyline points="99.2,281 110.2,281" stroke="#f6d2b4" stroke-width="0.8" fill="none" stroke-linejoin="miter" stroke-linecap="square"/>
<polyline points="99.2,281 99.2,287.1" stroke="#f6d2b4" stroke-width="0.8" fill="none" stroke-linejoin="miter" stroke-linecap="square"/>
<polyline points="108,281 108,294.7" stroke="#f6d2b4" stroke-width="0.8" fill="none" stroke-linejoin="miter" stroke-linecap="square"/>
<polyline points="110.2,281 110.2,285.9" stroke="#f6d2b4" stroke-width="0.8" fill="none" stroke-linejoin="miter" stroke-linecap="square"/>
<polyline points="113.1,282 131.4,282" stroke="#f6d2b4" stroke-width="0.8" fill="none" stroke-linejoin="miter" stroke-linecap="square"/>
<polyline points="113.1,282 113.1,288.6" stroke="#f6d2b4" stroke-width="0.8" fill="none" stroke-linejoin="miter" stroke-linecap="square"/>
<polyline points="116.5,282 116.5,288.6" stroke="#f6d2b4" stroke-width="0.8" fill="none" stroke-linejoin="miter" stroke-linecap="square"/>
<polyline points="122.6,282 122.6,289" stroke="#f6d2b4" stroke-width="0.8" fill="none" stroke-linejoin="miter" stroke-linecap="square"/>
<polyline points="126.2,282 126.2,289" stroke="#f6d2b4" stroke-width="0.8" fill="none" stroke-linejoin="miter" stroke-linecap="square"/>
<polyline points="128.4,282 128.4,297" stroke="#f6d2b4" stroke-width="0.8" fill="none" stroke-linejoin="miter" stroke-linecap="square"/>
<polyline points="131.4,282 131.4,300.3" stroke="#f6d2b4" stroke-width="0.8" fill="none" stroke-linejoin="miter" stroke-linecap="square"/>
<polyline points="135.2,281.5 142.5,281.5" stroke="#f6d2b4" stroke-width="0.8" fill="none" stroke-linejoin="miter" stroke-linecap="square"/>
<polyline points="135.2,281.5 135.2,295.4" stroke="#f6d2b4" stroke-width="0.8" fill="none" stroke-linejoin="miter" stroke-linecap="square"/>
<polyline points="138.1,281.5 138.1,296.4" stroke="#f6d2b4" stroke-width="0.8" fill="none" stroke-linejoin="miter" stroke-linecap="square"/>
<polyline points="142.5,281.5 142.5,302.7" stroke="#f6d2b4" stroke-width="0.8" fill="none" stroke-linejoin="miter" stroke-linecap="square"/>
<polyline points="145.4,280.5 160,280.5" stroke="#f6d2b4" stroke-width="0.8" fill="none" stroke-linejoin="miter" stroke-linecap="square"/>
<polyline points="145.4,280.5 145.4,287.3" stroke="#f6d2b4" stroke-width="0.8" fill="none" stroke-linejoin="miter" stroke-linecap="square"/>
<polyline points="148.4,280.5 148.4,286.2" stroke="#f6d2b4" stroke-width="0.8" fill="none" stroke-linejoin="miter" stroke-linecap="square"/>
<polyline points="150.5,280.5 150.5,296.4" stroke="#f6d2b4" stroke-width="0.8" fill="none" stroke-linejoin="miter" stroke-linecap="square"/>
<polyline points="153.5,280.5 153.5,296.8" stroke="#f6d2b4" stroke-width="0.8" fill="none" stroke-linejoin="miter" stroke-linecap="square"/>
<polyline points="156.4,280.5 156.4,295.4" stroke="#f6d2b4" stroke-width="0.8" fill="none" stroke-linejoin="miter" stroke-linecap="square"/>
<polyline points="160,280.5 160,296.1" stroke="#f6d2b4" stroke-width="0.8" fill="none" stroke-linejoin="miter" stroke-linecap="square"/>
<polyline points="162.7,279.8 188.5,279.8" stroke="#f6d2b4" stroke-width="0.8" fill="none" stroke-linejoin="miter" stroke-linecap="square"/>
<polyline points="162.7,279.8 162.7,290.3" stroke="#f6d2b4" stroke-width="0.8" fill="none" stroke-linejoin="miter" stroke-linecap="square"/>
<polyline points="165.9,279.8 165.9,287.6" stroke="#f6d2b4" stroke-width="0.8" fill="none" stroke-linejoin="miter" stroke-linecap="square"/>
<polyline points="171,279.8 171,286.3" stroke="#f6d2b4" stroke-width="0.8" fill="none" stroke-linejoin="miter" stroke-linecap="square"/>
<polyline points="173.9,279.8 173.9,295.4" stroke="#f6d2b4" stroke-width="0.8" fill="none" stroke-linejoin="miter" stroke-linecap="square"/>
<polyline points="179.7,279.8 179.7,295.4" stroke="#f6d2b4" stroke-width="0.8" fill="none" stroke-linejoin="miter" stroke-linecap="square"/>
<polyline points="182.7,279.8 182.7,288.5" stroke="#f6d2b4" stroke-width="0.8" fill="none" stroke-linejoin="miter" stroke-linecap="square"/>
<polyline points="184.9,279.8 184.9,295.4" stroke="#f6d2b4" stroke-width="0.8" fill="none" stroke-linejoin="miter" stroke-linecap="square"/>
<polyline points="188.5,279.8 188.5,294.3" stroke="#f6d2b4" stroke-width="0.8" fill="none" stroke-linejoin="miter" stroke-linecap="square"/>
<polyline points="191.4,279.2 205.3,279.2" stroke="#f6d2b4" stroke-width="0.8" fill="none" stroke-linejoin="miter" stroke-linecap="square"/>
<polyline points="191.4,279.2 191.4,287.3" stroke="#f6d2b4" stroke-width="0.8" fill="none" stroke-linejoin="miter" stroke-linecap="square"/>
<polyline points="194.3,279.2 194.3,284.4" stroke="#f6d2b4" stroke-width="0.8" fill="none" stroke-linejoin="miter" stroke-linecap="square"/>
<polyline points="197.3,279.2 197.3,283" stroke="#f6d2b4" stroke-width="0.8" fill="none" stroke-linejoin="miter" stroke-linecap="square"/>
<polyline points="199.5,279.2 199.5,289.1" stroke="#f6d2b4" stroke-width="0.8" fill="none" stroke-linejoin="miter" stroke-linecap="square"/>
<polyline points="205.3,279.2 205.3,286.6" stroke="#f6d2b4" stroke-width="0.8" fill="none" stroke-linejoin="miter" stroke-linecap="square"/>
<polyline points="214,289.5 239.9,289.5" stroke="#f6d2b4" stroke-width="0.8" fill="none" stroke-linejoin="miter" stroke-linecap="square"/>
<polyline points="214,289.5 214,298.3" stroke="#f6d2b4" stroke-width="0.8" fill="none" stroke-linejoin="miter" stroke-linecap="square"/>
<polyline points="217.7,289.5 217.7,298.3" stroke="#f6d2b4" stroke-width="0.8" fill="none" stroke-linejoin="miter" stroke-linecap="square"/>
<polyline points="222.4,289.5 222.4,297" stroke="#f6d2b4" stroke-width="0.8" fill="none" stroke-linejoin="miter" stroke-linecap="square"/>
<polyline points="228.2,289.5 228.2,295.3" stroke="#f6d2b4" stroke-width="0.8" fill="none" stroke-linejoin="miter" stroke-linecap="square"/>
<polyline points="234.1,289.5 234.1,296.4" stroke="#f6d2b4" stroke-width="0.8" fill="none" stroke-linejoin="miter" stroke-linecap="square"/>
<polyline points="239.9,289.5 239.9,297.9" stroke="#f6d2b4" stroke-width="0.8" fill="none" stroke-linejoin="miter" stroke-linecap="square"/>
<polyline points="232.6,283.5 232.6,289.5" stroke="#f6d2b4" stroke-width="0.9" fill="none" stroke-linejoin="miter" stroke-linecap="square"/>
<polyline points="242.4,282 256.7,282" stroke="#f6d2b4" stroke-width="0.8" fill="none" stroke-linejoin="miter" stroke-linecap="square"/>
<polyline points="242.4,282 242.4,292.3" stroke="#f6d2b4" stroke-width="0.8" fill="none" stroke-linejoin="miter" stroke-linecap="square"/>
<polyline points="245.3,282 245.3,293.1" stroke="#f6d2b4" stroke-width="0.8" fill="none" stroke-linejoin="miter" stroke-linecap="square"/>
<polyline points="248.2,282 248.2,292.3" stroke="#f6d2b4" stroke-width="0.8" fill="none" stroke-linejoin="miter" stroke-linecap="square"/>
<polyline points="251.6,282 251.6,288.2" stroke="#f6d2b4" stroke-width="0.8" fill="none" stroke-linejoin="miter" stroke-linecap="square"/>
<polyline points="256.7,282 256.7,285.8" stroke="#f6d2b4" stroke-width="0.8" fill="none" stroke-linejoin="miter" stroke-linecap="square"/>
<polyline points="260.4,275 268.4,275" stroke="#f6d2b4" stroke-width="0.8" fill="none" stroke-linejoin="miter" stroke-linecap="square"/>
<polyline points="260.4,275 260.4,285" stroke="#f6d2b4" stroke-width="0.8" fill="none" stroke-linejoin="miter" stroke-linecap="square"/>
<polyline points="265.5,275 265.5,287.2" stroke="#f6d2b4" stroke-width="0.8" fill="none" stroke-linejoin="miter" stroke-linecap="square"/>
<polyline points="268.4,275 268.4,285.5" stroke="#f6d2b4" stroke-width="0.8" fill="none" stroke-linejoin="miter" stroke-linecap="square"/>
<polyline points="227.1,283.8 240.2,283.8" stroke="#f6d2b4" stroke-width="0.9" fill="none" stroke-linejoin="miter" stroke-linecap="square"/>
<polyline points="222.7,287 233.6,287" stroke="#f6d2b4" stroke-width="0.9" fill="none" stroke-linejoin="miter" stroke-linecap="square"/>
<polyline points="217.2,291.5 229.3,291.5" stroke="#f6d2b4" stroke-width="0.9" fill="none" stroke-linejoin="miter" stroke-linecap="square"/>
<polyline points="261,274 268.7,274 268.7,283" stroke="#f6d2b4" stroke-width="0.9" fill="none" stroke-linejoin="miter" stroke-linecap="square"/>
<polyline points="257.7,278.3 264.3,278.3" stroke="#f6d2b4" stroke-width="0.9" fill="none" stroke-linejoin="miter" stroke-linecap="square"/>
<polyline points="400.6,272.4 400.6,265.4 420.5,265.4" stroke="#f6d2b4" stroke-width="1.0" fill="none" stroke-linejoin="miter" stroke-linecap="square"/>
<polyline points="383.5,279.3 383.5,272.4 416.5,272.4 416.5,285" stroke="#f6d2b4" stroke-width="1.0" fill="none" stroke-linejoin="miter" stroke-linecap="square"/>
<polyline points="366.2,281 366.2,279.3 409.6,279.3" stroke="#f6d2b4" stroke-width="0.9" fill="none" stroke-linejoin="miter" stroke-linecap="square"/>
<polyline points="342.3,282.5 361.1,282.5" stroke="#f6d2b4" stroke-width="0.9" fill="none" stroke-linejoin="miter" stroke-linecap="square"/>
<polyline points="351.7,281 366.2,281" stroke="#f6d2b4" stroke-width="0.9" fill="none" stroke-linejoin="miter" stroke-linecap="square"/>
<polyline points="333,290.3 333,282.5 342.3,282.5" stroke="#f6d2b4" stroke-width="0.9" fill="none" stroke-linejoin="miter" stroke-linecap="square"/>
<polyline points="332.9,289 350.3,289" stroke="#f6d2b4" stroke-width="0.9" fill="none" stroke-linejoin="miter" stroke-linecap="square"/>
<polyline points="335.2,289 346.6,289" stroke="#f6d2b4" stroke-width="0.8" fill="none" stroke-linejoin="miter" stroke-linecap="square"/>
<polyline points="335.2,289 335.2,303.6" stroke="#f6d2b4" stroke-width="0.8" fill="none" stroke-linejoin="miter" stroke-linecap="square"/>
<polyline points="336.6,289 336.6,296.8" stroke="#f6d2b4" stroke-width="0.8" fill="none" stroke-linejoin="miter" stroke-linecap="square"/>
<polyline points="340.2,289 340.2,296.8" stroke="#f6d2b4" stroke-width="0.8" fill="none" stroke-linejoin="miter" stroke-linecap="square"/>
<polyline points="343.1,289 343.1,296.8" stroke="#f6d2b4" stroke-width="0.8" fill="none" stroke-linejoin="miter" stroke-linecap="square"/>
<polyline points="346.6,289 346.6,296.2" stroke="#f6d2b4" stroke-width="0.8" fill="none" stroke-linejoin="miter" stroke-linecap="square"/>
<polyline points="351.7,284 363.3,284" stroke="#f6d2b4" stroke-width="0.8" fill="none" stroke-linejoin="miter" stroke-linecap="square"/>
<polyline points="351.7,284 351.7,297.7" stroke="#f6d2b4" stroke-width="0.8" fill="none" stroke-linejoin="miter" stroke-linecap="square"/>
<polyline points="354.6,284 354.6,296.2" stroke="#f6d2b4" stroke-width="0.8" fill="none" stroke-linejoin="miter" stroke-linecap="square"/>
<polyline points="358.9,284 358.9,295.8" stroke="#f6d2b4" stroke-width="0.8" fill="none" stroke-linejoin="miter" stroke-linecap="square"/>
<polyline points="363.3,284 363.3,295.2" stroke="#f6d2b4" stroke-width="0.8" fill="none" stroke-linejoin="miter" stroke-linecap="square"/>
<polyline points="366.2,282.2 383.5,282.2" stroke="#f6d2b4" stroke-width="0.8" fill="none" stroke-linejoin="miter" stroke-linecap="square"/>
<polyline points="366.2,282.2 366.2,286.1" stroke="#f6d2b4" stroke-width="0.8" fill="none" stroke-linejoin="miter" stroke-linecap="square"/>
<polyline points="369.1,282.2 369.1,290.5" stroke="#f6d2b4" stroke-width="0.8" fill="none" stroke-linejoin="miter" stroke-linecap="square"/>
<polyline points="372,282.2 372,291.9" stroke="#f6d2b4" stroke-width="0.8" fill="none" stroke-linejoin="miter" stroke-linecap="square"/>
<polyline points="374.9,282.2 374.9,298.1" stroke="#f6d2b4" stroke-width="0.8" fill="none" stroke-linejoin="miter" stroke-linecap="square"/>
<polyline points="377.8,282.2 377.8,289" stroke="#f6d2b4" stroke-width="0.8" fill="none" stroke-linejoin="miter" stroke-linecap="square"/>
<polyline points="380.6,282.2 380.6,296.2" stroke="#f6d2b4" stroke-width="0.8" fill="none" stroke-linejoin="miter" stroke-linecap="square"/>
<polyline points="383.5,282.2 383.5,295.8" stroke="#f6d2b4" stroke-width="0.8" fill="none" stroke-linejoin="miter" stroke-linecap="square"/>
<polyline points="385.7,281 403.5,281" stroke="#f6d2b4" stroke-width="0.8" fill="none" stroke-linejoin="miter" stroke-linecap="square"/>
<polyline points="385.7,281 385.7,288" stroke="#f6d2b4" stroke-width="0.8" fill="none" stroke-linejoin="miter" stroke-linecap="square"/>
<polyline points="388.6,281 388.6,288.3" stroke="#f6d2b4" stroke-width="0.8" fill="none" stroke-linejoin="miter" stroke-linecap="square"/>
<polyline points="392.2,281 392.2,288" stroke="#f6d2b4" stroke-width="0.8" fill="none" stroke-linejoin="miter" stroke-linecap="square"/>
<polyline points="394.8,281 394.8,293.3" stroke="#f6d2b4" stroke-width="0.8" fill="none" stroke-linejoin="miter" stroke-linecap="square"/>
<polyline points="397.7,281 397.7,298.1" stroke="#f6d2b4" stroke-width="0.8" fill="none" stroke-linejoin="miter" stroke-linecap="square"/>
<polyline points="400.6,281 400.6,288" stroke="#f6d2b4" stroke-width="0.8" fill="none" stroke-linejoin="miter" stroke-linecap="square"/>
<polyline points="403.5,281 403.5,303.5" stroke="#f6d2b4" stroke-width="0.8" fill="none" stroke-linejoin="miter" stroke-linecap="square"/>
<polyline points="406.4,283 417.5,283" stroke="#f6d2b4" stroke-width="0.8" fill="none" stroke-linejoin="miter" stroke-linecap="square"/>
<polyline points="406.4,283 406.4,290.2" stroke="#f6d2b4" stroke-width="0.8" fill="none" stroke-linejoin="miter" stroke-linecap="square"/>
<polyline points="409.9,283 409.9,290.1" stroke="#f6d2b4" stroke-width="0.8" fill="none" stroke-linejoin="miter" stroke-linecap="square"/>
<polyline points="414.6,283 414.6,287.6" stroke="#f6d2b4" stroke-width="0.8" fill="none" stroke-linejoin="miter" stroke-linecap="square"/>
<polyline points="417.5,283 417.5,286.1" stroke="#f6d2b4" stroke-width="0.8" fill="none" stroke-linejoin="miter" stroke-linecap="square"/>
<polyline points="520.1,302.5 547.7,302.5 547.7,323.5" stroke="#f6d2b4" stroke-width="1.0" fill="none" stroke-linejoin="miter" stroke-linecap="square"/>
<polyline points="508.9,324.5 558.8,324.5" stroke="#f6d2b4" stroke-width="0.8" fill="none" stroke-linejoin="miter" stroke-linecap="square"/>
<polyline points="508.9,324.5 508.9,332" stroke="#f6d2b4" stroke-width="0.8" fill="none" stroke-linejoin="miter" stroke-linecap="square"/>
<polyline points="512.2,324.5 512.2,332" stroke="#f6d2b4" stroke-width="0.8" fill="none" stroke-linejoin="miter" stroke-linecap="square"/>
<polyline points="517.4,324.5 517.4,332" stroke="#f6d2b4" stroke-width="0.8" fill="none" stroke-linejoin="miter" stroke-linecap="square"/>
<polyline points="519.4,324.5 519.4,332" stroke="#f6d2b4" stroke-width="0.8" fill="none" stroke-linejoin="miter" stroke-linecap="square"/>
<polyline points="525.3,324.5 525.3,332" stroke="#f6d2b4" stroke-width="0.8" fill="none" stroke-linejoin="miter" stroke-linecap="square"/>
<polyline points="527.3,324.5 527.3,332" stroke="#f6d2b4" stroke-width="0.8" fill="none" stroke-linejoin="miter" stroke-linecap="square"/>
<polyline points="531.9,324.5 531.9,332" stroke="#f6d2b4" stroke-width="0.8" fill="none" stroke-linejoin="miter" stroke-linecap="square"/>
<polyline points="535.2,324.5 535.2,332" stroke="#f6d2b4" stroke-width="0.8" fill="none" stroke-linejoin="miter" stroke-linecap="square"/>
<polyline points="537.8,324.5 537.8,332" stroke="#f6d2b4" stroke-width="0.8" fill="none" stroke-linejoin="miter" stroke-linecap="square"/>
<polyline points="541.8,324.5 541.8,330" stroke="#f6d2b4" stroke-width="0.8" fill="none" stroke-linejoin="miter" stroke-linecap="square"/>
<polyline points="546.4,324.5 546.4,329" stroke="#f6d2b4" stroke-width="0.8" fill="none" stroke-linejoin="miter" stroke-linecap="square"/>
<polyline points="549.6,324.5 549.6,328" stroke="#f6d2b4" stroke-width="0.8" fill="none" stroke-linejoin="miter" stroke-linecap="square"/>
<polyline points="552.9,324.5 552.9,328" stroke="#f6d2b4" stroke-width="0.8" fill="none" stroke-linejoin="miter" stroke-linecap="square"/>
<polyline points="556.2,324.5 556.2,328" stroke="#f6d2b4" stroke-width="0.8" fill="none" stroke-linejoin="miter" stroke-linecap="square"/>
<polyline points="558.8,324.5 558.8,328" stroke="#f6d2b4" stroke-width="0.8" fill="none" stroke-linejoin="miter" stroke-linecap="square"/>
<polyline points="482.6,302.5 482.6,328.8" stroke="#f6d2b4" stroke-width="1.0" fill="none" stroke-linejoin="miter" stroke-linecap="square"/>
<polyline points="474.2,338.5 474.2,328.8 491.2,328.8 491.2,352" stroke="#f6d2b4" stroke-width="1.0" fill="none" stroke-linejoin="miter" stroke-linecap="square"/>
<polyline points="481.5,352 481.5,330.5" stroke="#f6d2b4" stroke-width="0.9" fill="none" stroke-linejoin="miter" stroke-linecap="square"/>
<polyline points="462.5,336.1 462.5,330.5 474.2,330.5" stroke="#f6d2b4" stroke-width="1.0" fill="none" stroke-linejoin="miter" stroke-linecap="square"/>
<polyline points="455.3,338.9 455.3,336.1 466,336.1 466,339" stroke="#f6d2b4" stroke-width="0.9" fill="none" stroke-linejoin="miter" stroke-linecap="square"/>
<polyline points="446.8,345.7 446.8,338.9 457.9,338.9" stroke="#f6d2b4" stroke-width="0.9" fill="none" stroke-linejoin="miter" stroke-linecap="square"/>
<polyline points="435.7,345.7 462.5,345.7" stroke="#f6d2b4" stroke-width="0.9" fill="none" stroke-linejoin="miter" stroke-linecap="square"/>
<polyline points="428.7,349 443.3,349" stroke="#f6d2b4" stroke-width="0.7" fill="none" stroke-linejoin="miter" stroke-linecap="square"/>
<polyline points="428.7,349 428.7,356.2" stroke="#f6d2b4" stroke-width="0.7" fill="none" stroke-linejoin="miter" stroke-linecap="square"/>
<polyline points="431.6,349 431.6,357.1" stroke="#f6d2b4" stroke-width="0.7" fill="none" stroke-linejoin="miter" stroke-linecap="square"/>
<polyline points="435.1,349 435.1,354.8" stroke="#f6d2b4" stroke-width="0.7" fill="none" stroke-linejoin="miter" stroke-linecap="square"/>
<polyline points="438,349 438,355.6" stroke="#f6d2b4" stroke-width="0.7" fill="none" stroke-linejoin="miter" stroke-linecap="square"/>
<polyline points="440.4,349 440.4,350.1" stroke="#f6d2b4" stroke-width="0.7" fill="none" stroke-linejoin="miter" stroke-linecap="square"/>
<polyline points="443.3,349 443.3,350.1" stroke="#f6d2b4" stroke-width="0.7" fill="none" stroke-linejoin="miter" stroke-linecap="square"/>
<polyline points="446.8,348 466.6,348" stroke="#f6d2b4" stroke-width="0.7" fill="none" stroke-linejoin="miter" stroke-linecap="square"/>
<polyline points="446.8,348 446.8,356.8" stroke="#f6d2b4" stroke-width="0.7" fill="none" stroke-linejoin="miter" stroke-linecap="square"/>
<polyline points="449.1,348 449.1,354.8" stroke="#f6d2b4" stroke-width="0.7" fill="none" stroke-linejoin="miter" stroke-linecap="square"/>
<polyline points="452,348 452,352.7" stroke="#f6d2b4" stroke-width="0.7" fill="none" stroke-linejoin="miter" stroke-linecap="square"/>
<polyline points="455.5,348 455.5,355.6" stroke="#f6d2b4" stroke-width="0.7" fill="none" stroke-linejoin="miter" stroke-linecap="square"/>
<polyline points="457.9,348 457.9,356.2" stroke="#f6d2b4" stroke-width="0.7" fill="none" stroke-linejoin="miter" stroke-linecap="square"/>
<polyline points="460.8,348 460.8,357.4" stroke="#f6d2b4" stroke-width="0.7" fill="none" stroke-linejoin="miter" stroke-linecap="square"/>
<polyline points="463.7,348 463.7,355.6" stroke="#f6d2b4" stroke-width="0.7" fill="none" stroke-linejoin="miter" stroke-linecap="square"/>
<polyline points="466.6,348 466.6,350.4" stroke="#f6d2b4" stroke-width="0.7" fill="none" stroke-linejoin="miter" stroke-linecap="square"/>
<polyline points="477.7,350 494.7,350" stroke="#f6d2b4" stroke-width="0.7" fill="none" stroke-linejoin="miter" stroke-linecap="square"/>
<polyline points="477.7,350 477.7,355" stroke="#f6d2b4" stroke-width="0.7" fill="none" stroke-linejoin="miter" stroke-linecap="square"/>
<polyline points="481.2,350 481.2,355" stroke="#f6d2b4" stroke-width="0.7" fill="none" stroke-linejoin="miter" stroke-linecap="square"/>
<polyline points="486.5,350 486.5,355.6" stroke="#f6d2b4" stroke-width="0.7" fill="none" stroke-linejoin="miter" stroke-linecap="square"/>
<polyline points="491.2,350 491.2,355.6" stroke="#f6d2b4" stroke-width="0.7" fill="none" stroke-linejoin="miter" stroke-linecap="square"/>
<polyline points="494.7,350 494.7,355.6" stroke="#f6d2b4" stroke-width="0.7" fill="none" stroke-linejoin="miter" stroke-linecap="square"/>
<polyline points="323.6,294.6 323.6,290.3 333,290.3" stroke="#e07ad2" stroke-width="1.0" fill="none" stroke-linejoin="miter" stroke-linecap="square"/>
<polyline points="315.6,295.8 315.6,294.6 331.5,294.6 331.5,303" stroke="#e07ad2" stroke-width="1.0" fill="none" stroke-linejoin="miter" stroke-linecap="square"/>
<polyline points="306.2,295.8 323,295.8" stroke="#e07ad2" stroke-width="0.9" fill="none" stroke-linejoin="miter" stroke-linecap="square"/>
<polyline points="301.2,298.2 313,298.2" stroke="#e07ad2" stroke-width="0.9" fill="none" stroke-linejoin="miter" stroke-linecap="square"/>
<polyline points="306.2,295.8 306.2,298.2" stroke="#e07ad2" stroke-width="0.9" fill="none" stroke-linejoin="miter" stroke-linecap="square"/>
<polyline points="295.4,301.1 307,301.1" stroke="#e07ad2" stroke-width="0.9" fill="none" stroke-linejoin="miter" stroke-linecap="square"/>
<polyline points="301.2,298.2 301.2,301.1" stroke="#e07ad2" stroke-width="0.9" fill="none" stroke-linejoin="miter" stroke-linecap="square"/>
<polyline points="280.2,303 299.7,303" stroke="#e07ad2" stroke-width="0.9" fill="none" stroke-linejoin="miter" stroke-linecap="square"/>
<polyline points="295.4,301.1 295.4,303" stroke="#e07ad2" stroke-width="0.9" fill="none" stroke-linejoin="miter" stroke-linecap="square"/>
<polyline points="270.8,310 283.1,310" stroke="#e07ad2" stroke-width="0.8" fill="none" stroke-linejoin="miter" stroke-linecap="square"/>
<polyline points="270.8,310 270.8,325" stroke="#e07ad2" stroke-width="0.8" fill="none" stroke-linejoin="miter" stroke-linecap="square"/>
<polyline points="273.7,310 273.7,324.3" stroke="#e07ad2" stroke-width="0.8" fill="none" stroke-linejoin="miter" stroke-linecap="square"/>
<polyline points="277.3,310 277.3,323.5" stroke="#e07ad2" stroke-width="0.8" fill="none" stroke-linejoin="miter" stroke-linecap="square"/>
<polyline points="280.2,310 280.2,322.8" stroke="#e07ad2" stroke-width="0.8" fill="none" stroke-linejoin="miter" stroke-linecap="square"/>
<polyline points="283.1,310 283.1,318.9" stroke="#e07ad2" stroke-width="0.8" fill="none" stroke-linejoin="miter" stroke-linecap="square"/>
<polyline points="280.2,303 280.2,310" stroke="#e07ad2" stroke-width="0.8" fill="none" stroke-linejoin="miter" stroke-linecap="square"/>
<polyline points="285.5,303 285.5,305" stroke="#e07ad2" stroke-width="0.8" fill="none" stroke-linejoin="miter" stroke-linecap="square"/>
<polyline points="288.9,309 302.9,309" stroke="#e07ad2" stroke-width="0.8" fill="none" stroke-linejoin="miter" stroke-linecap="square"/>
<polyline points="288.9,309 288.9,319.2" stroke="#e07ad2" stroke-width="0.8" fill="none" stroke-linejoin="miter" stroke-linecap="square"/>
<polyline points="291.8,309 291.8,321.4" stroke="#e07ad2" stroke-width="0.8" fill="none" stroke-linejoin="miter" stroke-linecap="square"/>
<polyline points="294.7,309 294.7,313.1" stroke="#e07ad2" stroke-width="0.8" fill="none" stroke-linejoin="miter" stroke-linecap="square"/>
<polyline points="297.5,309 297.5,321.8" stroke="#e07ad2" stroke-width="0.8" fill="none" stroke-linejoin="miter" stroke-linecap="square"/>
<polyline points="302.9,309 302.9,323.2" stroke="#e07ad2" stroke-width="0.8" fill="none" stroke-linejoin="miter" stroke-linecap="square"/>
<polyline points="295,303 295,309" stroke="#e07ad2" stroke-width="0.8" fill="none" stroke-linejoin="miter" stroke-linecap="square"/>
<polyline points="306.2,300.5 314.9,300.5" stroke="#e07ad2" stroke-width="0.8" fill="none" stroke-linejoin="miter" stroke-linecap="square"/>
<polyline points="306.2,300.5 306.2,306.2" stroke="#e07ad2" stroke-width="0.8" fill="none" stroke-linejoin="miter" stroke-linecap="square"/>
<polyline points="311.6,300.5 311.6,307.6" stroke="#e07ad2" stroke-width="0.8" fill="none" stroke-linejoin="miter" stroke-linecap="square"/>
<polyline points="314.9,300.5 314.9,305.9" stroke="#e07ad2" stroke-width="0.8" fill="none" stroke-linejoin="miter" stroke-linecap="square"/>
<polyline points="317.4,302 327.2,302" stroke="#e07ad2" stroke-width="0.8" fill="none" stroke-linejoin="miter" stroke-linecap="square"/>
<polyline points="317.4,302 317.4,313.7" stroke="#e07ad2" stroke-width="0.8" fill="none" stroke-linejoin="miter" stroke-linecap="square"/>
<polyline points="321.4,302 321.4,313.1" stroke="#e07ad2" stroke-width="0.8" fill="none" stroke-linejoin="miter" stroke-linecap="square"/>
<polyline points="323.6,302 323.6,312" stroke="#e07ad2" stroke-width="0.8" fill="none" stroke-linejoin="miter" stroke-linecap="square"/>
<polyline points="325.8,302 325.8,317.7" stroke="#e07ad2" stroke-width="0.8" fill="none" stroke-linejoin="miter" stroke-linecap="square"/>
<polyline points="327.2,302 327.2,313.7" stroke="#e07ad2" stroke-width="0.8" fill="none" stroke-linejoin="miter" stroke-linecap="square"/>
<polyline points="320,295.8 320,302" stroke="#e07ad2" stroke-width="0.8" fill="none" stroke-linejoin="miter" stroke-linecap="square"/>
<polyline points="99,280.5 102.5,280.5 102.5,286" stroke="#d81f48" stroke-width="0.9" fill="none" stroke-linejoin="miter" stroke-linecap="square"/>
<polyline points="104.8,288 104.8,292" stroke="#e07ad2" stroke-width="0.9" fill="none" stroke-linejoin="miter" stroke-linecap="square"/>
<circle cx="119.7" cy="285.5" r="2.2" fill="#d81f48" stroke="#6a1020" stroke-width="0.3"/>
<circle cx="102.9" cy="288.3" r="3.1" fill="#d81f48" stroke="#6a1020" stroke-width="0.45"/>
<circle cx="104.8" cy="295.4" r="3.1" fill="#d458c4" stroke="#5a2050" stroke-width="0.45"/>
<circle cx="56.2" cy="287.8" r="3.1" fill="#f7cea9" stroke="#6a5a50" stroke-width="0.55"/>
<circle cx="58.4" cy="287.1" r="3.1" fill="#f7cea9" stroke="#6a5a50" stroke-width="0.55"/>
<circle cx="62" cy="287.1" r="3.1" fill="#f7cea9" stroke="#6a5a50" stroke-width="0.55"/>
<circle cx="65.4" cy="289.7" r="3.1" fill="#f7cea9" stroke="#6a5a50" stroke-width="0.55"/>
<circle cx="68.3" cy="290" r="3.1" fill="#f7cea9" stroke="#6a5a50" stroke-width="0.55"/>
<circle cx="70" cy="297.3" r="3.1" fill="#f7cea9" stroke="#6a5a50" stroke-width="0.55"/>
<circle cx="73.7" cy="297.3" r="3.1" fill="#f7cea9" stroke="#6a5a50" stroke-width="0.55"/>
<circle cx="76.3" cy="289.6" r="3.1" fill="#f7cea9" stroke="#6a5a50" stroke-width="0.55"/>
<circle cx="79.5" cy="288.3" r="3.1" fill="#f7cea9" stroke="#6a5a50" stroke-width="0.55"/>
<circle cx="82.4" cy="287.8" r="3.1" fill="#f7cea9" stroke="#6a5a50" stroke-width="0.55"/>
<circle cx="84.6" cy="298.1" r="3.1" fill="#f7cea9" stroke="#6a5a50" stroke-width="0.55"/>
<circle cx="88.3" cy="298.4" r="3.1" fill="#f7cea9" stroke="#6a5a50" stroke-width="0.55"/>
<circle cx="91.2" cy="298.8" r="3.1" fill="#f7cea9" stroke="#6a5a50" stroke-width="0.55"/>
<circle cx="94.1" cy="298.8" r="3.1" fill="#f7cea9" stroke="#6a5a50" stroke-width="0.55"/>
<circle cx="96.3" cy="295.1" r="3.1" fill="#f7cea9" stroke="#6a5a50" stroke-width="0.55"/>
<circle cx="99.2" cy="287.1" r="3.1" fill="#f7cea9" stroke="#6a5a50" stroke-width="0.55"/>
<circle cx="108" cy="294.7" r="3.1" fill="#f7cea9" stroke="#6a5a50" stroke-width="0.55"/>
<circle cx="110.2" cy="285.9" r="3.1" fill="#f7cea9" stroke="#6a5a50" stroke-width="0.55"/>
<circle cx="113.1" cy="288.6" r="3.1" fill="#f7cea9" stroke="#6a5a50" stroke-width="0.55"/>
<circle cx="116.5" cy="288.6" r="3.1" fill="#f7cea9" stroke="#6a5a50" stroke-width="0.55"/>
<circle cx="122.6" cy="289" r="3.1" fill="#f7cea9" stroke="#6a5a50" stroke-width="0.55"/>
<circle cx="126.2" cy="289" r="3.1" fill="#f7cea9" stroke="#6a5a50" stroke-width="0.55"/>
<circle cx="128.4" cy="297" r="3.1" fill="#f7cea9" stroke="#6a5a50" stroke-width="0.55"/>
<circle cx="131.4" cy="300.3" r="3.1" fill="#f7cea9" stroke="#6a5a50" stroke-width="0.55"/>
<circle cx="135.2" cy="295.4" r="3.1" fill="#f7cea9" stroke="#6a5a50" stroke-width="0.55"/>
<circle cx="138.1" cy="296.4" r="3.1" fill="#f7cea9" stroke="#6a5a50" stroke-width="0.55"/>
<circle cx="142.5" cy="302.7" r="3.1" fill="#f7cea9" stroke="#6a5a50" stroke-width="0.55"/>
<circle cx="145.4" cy="287.3" r="3.1" fill="#f7cea9" stroke="#6a5a50" stroke-width="0.55"/>
<circle cx="148.4" cy="286.2" r="3.1" fill="#f7cea9" stroke="#6a5a50" stroke-width="0.55"/>
<circle cx="150.5" cy="296.4" r="3.1" fill="#f7cea9" stroke="#6a5a50" stroke-width="0.55"/>
<circle cx="153.5" cy="296.8" r="3.1" fill="#f7cea9" stroke="#6a5a50" stroke-width="0.55"/>
<circle cx="156.4" cy="295.4" r="3.1" fill="#f7cea9" stroke="#6a5a50" stroke-width="0.55"/>
<circle cx="160" cy="296.1" r="3.1" fill="#f7cea9" stroke="#6a5a50" stroke-width="0.55"/>
<circle cx="162.7" cy="290.3" r="3.1" fill="#f7cea9" stroke="#6a5a50" stroke-width="0.55"/>
<circle cx="165.9" cy="287.6" r="3.1" fill="#f7cea9" stroke="#6a5a50" stroke-width="0.55"/>
<circle cx="171" cy="286.3" r="3.1" fill="#f7cea9" stroke="#6a5a50" stroke-width="0.55"/>
<circle cx="182.7" cy="288.5" r="3.1" fill="#f7cea9" stroke="#6a5a50" stroke-width="0.55"/>
<circle cx="173.9" cy="295.4" r="3.1" fill="#f7cea9" stroke="#6a5a50" stroke-width="0.55"/>
<circle cx="179.7" cy="295.4" r="3.1" fill="#f7cea9" stroke="#6a5a50" stroke-width="0.55"/>
<circle cx="184.9" cy="295.4" r="3.1" fill="#f7cea9" stroke="#6a5a50" stroke-width="0.55"/>
<circle cx="188.5" cy="294.3" r="3.1" fill="#f7cea9" stroke="#6a5a50" stroke-width="0.55"/>
<circle cx="191.4" cy="287.3" r="3.1" fill="#f7cea9" stroke="#6a5a50" stroke-width="0.55"/>
<circle cx="194.3" cy="284.4" r="3.1" fill="#f7cea9" stroke="#6a5a50" stroke-width="0.55"/>
<circle cx="197.3" cy="283" r="3.1" fill="#f7cea9" stroke="#6a5a50" stroke-width="0.55"/>
<circle cx="199.5" cy="289.1" r="3.1" fill="#f7cea9" stroke="#6a5a50" stroke-width="0.55"/>
<circle cx="205.3" cy="286.6" r="3.1" fill="#f7cea9" stroke="#6a5a50" stroke-width="0.55"/>
<circle cx="208.2" cy="280" r="3.1" fill="#f7cea9" stroke="#6a5a50" stroke-width="0.55"/>
<circle cx="211.1" cy="274.5" r="3.1" fill="#f7cea9" stroke="#6a5a50" stroke-width="0.55"/>
<circle cx="214" cy="298.3" r="3.1" fill="#f7cea9" stroke="#6a5a50" stroke-width="0.55"/>
<circle cx="217.7" cy="298.3" r="3.1" fill="#f7cea9" stroke="#6a5a50" stroke-width="0.55"/>
<circle cx="222.4" cy="297" r="3.1" fill="#f7cea9" stroke="#6a5a50" stroke-width="0.55"/>
<circle cx="228.2" cy="295.3" r="3.1" fill="#f7cea9" stroke="#6a5a50" stroke-width="0.55"/>
<circle cx="234.1" cy="296.4" r="3.1" fill="#f7cea9" stroke="#6a5a50" stroke-width="0.55"/>
<circle cx="239.9" cy="297.9" r="3.1" fill="#f7cea9" stroke="#6a5a50" stroke-width="0.55"/>
<circle cx="242.4" cy="292.3" r="3.1" fill="#f7cea9" stroke="#6a5a50" stroke-width="0.55"/>
<circle cx="245.3" cy="293.1" r="3.1" fill="#f7cea9" stroke="#6a5a50" stroke-width="0.55"/>
<circle cx="248.2" cy="292.3" r="3.1" fill="#f7cea9" stroke="#6a5a50" stroke-width="0.55"/>
<circle cx="251.6" cy="288.2" r="3.1" fill="#f7cea9" stroke="#6a5a50" stroke-width="0.55"/>
<circle cx="256.7" cy="285.8" r="3.1" fill="#f7cea9" stroke="#6a5a50" stroke-width="0.55"/>
<circle cx="260.4" cy="285" r="3.1" fill="#f7cea9" stroke="#6a5a50" stroke-width="0.55"/>
<circle cx="265.5" cy="287.2" r="3.1" fill="#f7cea9" stroke="#6a5a50" stroke-width="0.55"/>
<circle cx="268.4" cy="285.5" r="3.1" fill="#f7cea9" stroke="#6a5a50" stroke-width="0.55"/>
<circle cx="335.2" cy="303.6" r="3.1" fill="#f7cea9" stroke="#6a5a50" stroke-width="0.55"/>
<circle cx="340.2" cy="303.6" r="3.1" fill="#f7cea9" stroke="#6a5a50" stroke-width="0.55"/>
<circle cx="336.6" cy="296.8" r="3.1" fill="#f7cea9" stroke="#6a5a50" stroke-width="0.55"/>
<circle cx="340.2" cy="296.8" r="3.1" fill="#f7cea9" stroke="#6a5a50" stroke-width="0.55"/>
<circle cx="343.1" cy="296.8" r="3.1" fill="#f7cea9" stroke="#6a5a50" stroke-width="0.55"/>
<circle cx="346.6" cy="296.2" r="3.1" fill="#f7cea9" stroke="#6a5a50" stroke-width="0.55"/>
<circle cx="351.7" cy="297.7" r="3.1" fill="#f7cea9" stroke="#6a5a50" stroke-width="0.55"/>
<circle cx="354.6" cy="296.2" r="3.1" fill="#f7cea9" stroke="#6a5a50" stroke-width="0.55"/>
<circle cx="358.9" cy="295.8" r="3.1" fill="#f7cea9" stroke="#6a5a50" stroke-width="0.55"/>
<circle cx="363.3" cy="295.2" r="3.1" fill="#f7cea9" stroke="#6a5a50" stroke-width="0.55"/>
<circle cx="366.2" cy="286.1" r="3.1" fill="#f7cea9" stroke="#6a5a50" stroke-width="0.55"/>
<circle cx="369.1" cy="290.5" r="3.1" fill="#f7cea9" stroke="#6a5a50" stroke-width="0.55"/>
<circle cx="372" cy="291.9" r="3.1" fill="#f7cea9" stroke="#6a5a50" stroke-width="0.55"/>
<circle cx="374.9" cy="298.1" r="3.1" fill="#f7cea9" stroke="#6a5a50" stroke-width="0.55"/>
<circle cx="377.8" cy="289" r="3.1" fill="#f7cea9" stroke="#6a5a50" stroke-width="0.55"/>
<circle cx="380.6" cy="296.2" r="3.1" fill="#f7cea9" stroke="#6a5a50" stroke-width="0.55"/>
<circle cx="383.5" cy="295.8" r="3.1" fill="#f7cea9" stroke="#6a5a50" stroke-width="0.55"/>
<circle cx="385.7" cy="288" r="3.1" fill="#f7cea9" stroke="#6a5a50" stroke-width="0.55"/>
<circle cx="388.6" cy="288.3" r="3.1" fill="#f7cea9" stroke="#6a5a50" stroke-width="0.55"/>
<circle cx="392.2" cy="288" r="3.1" fill="#f7cea9" stroke="#6a5a50" stroke-width="0.55"/>
<circle cx="394.8" cy="293.3" r="3.1" fill="#f7cea9" stroke="#6a5a50" stroke-width="0.55"/>
<circle cx="397.7" cy="298.1" r="3.1" fill="#f7cea9" stroke="#6a5a50" stroke-width="0.55"/>
<circle cx="400.6" cy="288" r="3.1" fill="#f7cea9" stroke="#6a5a50" stroke-width="0.55"/>
<circle cx="403.5" cy="303.5" r="3.1" fill="#f7cea9" stroke="#6a5a50" stroke-width="0.55"/>
<circle cx="406.4" cy="290.2" r="3.1" fill="#f7cea9" stroke="#6a5a50" stroke-width="0.55"/>
<circle cx="410.3" cy="290.2" r="3.1" fill="#f7cea9" stroke="#6a5a50" stroke-width="0.55"/>
<circle cx="414.6" cy="287.6" r="3.1" fill="#f7cea9" stroke="#6a5a50" stroke-width="0.55"/>
<circle cx="417.5" cy="286.1" r="3.1" fill="#f7cea9" stroke="#6a5a50" stroke-width="0.55"/>
<circle cx="508.9" cy="332" r="3.1" fill="#f7cea9" stroke="#6a5a50" stroke-width="0.55"/>
<circle cx="512.2" cy="332" r="3.1" fill="#f7cea9" stroke="#6a5a50" stroke-width="0.55"/>
<circle cx="517.4" cy="332" r="3.1" fill="#f7cea9" stroke="#6a5a50" stroke-width="0.55"/>
<circle cx="519.4" cy="332" r="3.1" fill="#f7cea9" stroke="#6a5a50" stroke-width="0.55"/>
<circle cx="525.3" cy="332" r="3.1" fill="#f7cea9" stroke="#6a5a50" stroke-width="0.55"/>
<circle cx="527.3" cy="332" r="3.1" fill="#f7cea9" stroke="#6a5a50" stroke-width="0.55"/>
<circle cx="531.9" cy="332" r="3.1" fill="#f7cea9" stroke="#6a5a50" stroke-width="0.55"/>
<circle cx="535.2" cy="332" r="3.1" fill="#f7cea9" stroke="#6a5a50" stroke-width="0.55"/>
<circle cx="537.8" cy="332" r="3.1" fill="#f7cea9" stroke="#6a5a50" stroke-width="0.55"/>
<circle cx="541.8" cy="330" r="3.1" fill="#f7cea9" stroke="#6a5a50" stroke-width="0.55"/>
<circle cx="546.4" cy="329" r="3.1" fill="#f7cea9" stroke="#6a5a50" stroke-width="0.55"/>
<circle cx="549.6" cy="328" r="3.1" fill="#f7cea9" stroke="#6a5a50" stroke-width="0.55"/>
<circle cx="552.9" cy="328" r="3.1" fill="#f7cea9" stroke="#6a5a50" stroke-width="0.55"/>
<circle cx="556.2" cy="328" r="3.1" fill="#f7cea9" stroke="#6a5a50" stroke-width="0.55"/>
<circle cx="558.8" cy="328" r="3.1" fill="#f7cea9" stroke="#6a5a50" stroke-width="0.55"/>
<circle cx="428.7" cy="356.2" r="3.1" fill="#f7cea9" stroke="#6a5a50" stroke-width="0.55"/>
<circle cx="431.6" cy="357.1" r="3.1" fill="#f7cea9" stroke="#6a5a50" stroke-width="0.55"/>
<circle cx="435.1" cy="354.8" r="3.1" fill="#f7cea9" stroke="#6a5a50" stroke-width="0.55"/>
<circle cx="438" cy="355.6" r="3.1" fill="#f7cea9" stroke="#6a5a50" stroke-width="0.55"/>
<circle cx="440.4" cy="350.1" r="3.1" fill="#f7cea9" stroke="#6a5a50" stroke-width="0.55"/>
<circle cx="443.3" cy="350.1" r="3.1" fill="#f7cea9" stroke="#6a5a50" stroke-width="0.55"/>
<circle cx="446.8" cy="356.8" r="3.1" fill="#f7cea9" stroke="#6a5a50" stroke-width="0.55"/>
<circle cx="449.1" cy="354.8" r="3.1" fill="#f7cea9" stroke="#6a5a50" stroke-width="0.55"/>
<circle cx="452" cy="352.7" r="3.1" fill="#f7cea9" stroke="#6a5a50" stroke-width="0.55"/>
<circle cx="455.5" cy="355.6" r="3.1" fill="#f7cea9" stroke="#6a5a50" stroke-width="0.55"/>
<circle cx="457.9" cy="356.2" r="3.1" fill="#f7cea9" stroke="#6a5a50" stroke-width="0.55"/>
<circle cx="460.8" cy="357.4" r="3.1" fill="#f7cea9" stroke="#6a5a50" stroke-width="0.55"/>
<circle cx="463.7" cy="355.6" r="3.1" fill="#f7cea9" stroke="#6a5a50" stroke-width="0.55"/>
<circle cx="466.6" cy="350.4" r="3.1" fill="#f7cea9" stroke="#6a5a50" stroke-width="0.55"/>
<circle cx="465.5" cy="341.3" r="3.1" fill="#f7cea9" stroke="#6a5a50" stroke-width="0.55"/>
<circle cx="473.1" cy="341.6" r="3.1" fill="#f7cea9" stroke="#6a5a50" stroke-width="0.55"/>
<circle cx="475.4" cy="341.6" r="3.1" fill="#f7cea9" stroke="#6a5a50" stroke-width="0.55"/>
<circle cx="477.7" cy="355" r="3.1" fill="#f7cea9" stroke="#6a5a50" stroke-width="0.55"/>
<circle cx="481.2" cy="355" r="3.1" fill="#f7cea9" stroke="#6a5a50" stroke-width="0.55"/>
<circle cx="486.5" cy="355.6" r="3.1" fill="#f7cea9" stroke="#6a5a50" stroke-width="0.55"/>
<circle cx="491.2" cy="355.6" r="3.1" fill="#f7cea9" stroke="#6a5a50" stroke-width="0.55"/>
<circle cx="494.7" cy="355.6" r="3.1" fill="#f7cea9" stroke="#6a5a50" stroke-width="0.55"/>
<circle cx="176.8" cy="289.1" r="3.1" fill="#d81f48" stroke="#6a1020" stroke-width="0.45"/>
<circle cx="270.8" cy="325" r="3.1" fill="#d458c4" stroke="#5a2050" stroke-width="0.45"/>
<circle cx="273.7" cy="324.3" r="3.1" fill="#d458c4" stroke="#5a2050" stroke-width="0.45"/>
<circle cx="277.3" cy="323.5" r="3.1" fill="#d458c4" stroke="#5a2050" stroke-width="0.45"/>
<circle cx="280.2" cy="322.8" r="3.1" fill="#d458c4" stroke="#5a2050" stroke-width="0.45"/>
<circle cx="283.1" cy="318.9" r="3.1" fill="#d458c4" stroke="#5a2050" stroke-width="0.45"/>
<circle cx="285.5" cy="307.3" r="3.1" fill="#d458c4" stroke="#5a2050" stroke-width="0.45"/>
<circle cx="288.9" cy="319.2" r="3.1" fill="#d458c4" stroke="#5a2050" stroke-width="0.45"/>
<circle cx="291.8" cy="321.4" r="3.1" fill="#d458c4" stroke="#5a2050" stroke-width="0.45"/>
<circle cx="294.7" cy="313.1" r="3.1" fill="#d458c4" stroke="#5a2050" stroke-width="0.45"/>
<circle cx="297.5" cy="321.8" r="3.1" fill="#d458c4" stroke="#5a2050" stroke-width="0.45"/>
<circle cx="302.9" cy="323.2" r="3.1" fill="#d458c4" stroke="#5a2050" stroke-width="0.45"/>
<circle cx="306.2" cy="306.2" r="3.1" fill="#d458c4" stroke="#5a2050" stroke-width="0.45"/>
<circle cx="311.6" cy="307.6" r="3.1" fill="#d458c4" stroke="#5a2050" stroke-width="0.45"/>
<circle cx="314.9" cy="305.9" r="3.1" fill="#d458c4" stroke="#5a2050" stroke-width="0.45"/>
<circle cx="317.4" cy="313.7" r="3.1" fill="#d458c4" stroke="#5a2050" stroke-width="0.45"/>
<circle cx="321.4" cy="313.1" r="3.1" fill="#d458c4" stroke="#5a2050" stroke-width="0.45"/>
<circle cx="323.6" cy="312" r="3.1" fill="#d458c4" stroke="#5a2050" stroke-width="0.45"/>
<circle cx="327.2" cy="313.7" r="3.1" fill="#d458c4" stroke="#5a2050" stroke-width="0.45"/>
<circle cx="325.8" cy="317.7" r="3.1" fill="#d458c4" stroke="#5a2050" stroke-width="0.45"/>
<circle cx="331.8" cy="305" r="3.1" fill="#d458c4" stroke="#5a2050" stroke-width="0.45"/>
<circle cx="424" cy="274.3" r="3.1" fill="#7ccc9c" stroke="#2a5a3a" stroke-width="0.45"/>
<circle cx="420.5" cy="283.6" r="3.1" fill="#7ccc9c" stroke="#2a5a3a" stroke-width="0.45"/>
<circle cx="426.3" cy="287.8" r="3.1" fill="#7ccc9c" stroke="#2a5a3a" stroke-width="0.45"/>
<circle cx="498.4" cy="319.6" r="3.1" fill="#7ccc9c" stroke="#2a5a3a" stroke-width="0.45"/>
<circle cx="503.7" cy="319.6" r="3.1" fill="#7ccc9c" stroke="#2a5a3a" stroke-width="0.45"/>
<circle cx="506.9" cy="319.6" r="3.1" fill="#7ccc9c" stroke="#2a5a3a" stroke-width="0.45"/>
<circle cx="561.5" cy="320.5" r="3.1" fill="#7ccc9c" stroke="#2a5a3a" stroke-width="0.45"/>
<circle cx="564.7" cy="320.5" r="3.1" fill="#7ccc9c" stroke="#2a5a3a" stroke-width="0.45"/>
<circle cx="644.9" cy="288.1" r="3.1" fill="#7ccc9c" stroke="#2a5a3a" stroke-width="0.45"/>
<circle cx="647.8" cy="287.6" r="3.1" fill="#7ccc9c" stroke="#2a5a3a" stroke-width="0.45"/>
<circle cx="612.9" cy="188.3" r="3.1" fill="#bcd8f4" stroke="#4a5a70" stroke-width="0.45"/>
<circle cx="615.4" cy="189.7" r="3.1" fill="#bcd8f4" stroke="#4a5a70" stroke-width="0.45"/>
<circle cx="618.4" cy="193.1" r="3.1" fill="#bcd8f4" stroke="#4a5a70" stroke-width="0.45"/>
<circle cx="624.2" cy="189.2" r="3.1" fill="#bcd8f4" stroke="#4a5a70" stroke-width="0.45"/>
<circle cx="627.2" cy="187.2" r="3.1" fill="#bcd8f4" stroke="#4a5a70" stroke-width="0.45"/>
<circle cx="636.2" cy="185.5" r="3.1" fill="#bcd8f4" stroke="#4a5a70" stroke-width="0.45"/>
<circle cx="633.1" cy="193.4" r="3.1" fill="#bcd8f4" stroke="#4a5a70" stroke-width="0.45"/>
<circle cx="630.1" cy="201" r="3.1" fill="#bcd8f4" stroke="#4a5a70" stroke-width="0.45"/>
<circle cx="621.3" cy="209.4" r="3.1" fill="#bcd8f4" stroke="#4a5a70" stroke-width="0.45"/>
<circle cx="650.4" cy="345.8" r="3.1" fill="#bcd8f4" stroke="#4a5a70" stroke-width="0.45"/>
<circle cx="653" cy="164.4" r="2.8" fill="#1e1e3a" stroke="#111" stroke-width="0.45"/>
<circle cx="607.3" cy="287.8" r="2.8" fill="#1e1e3a" stroke="#111" stroke-width="0.45"/>
<circle cx="567.1" cy="292" r="2.8" fill="#1e1e3a" stroke="#111" stroke-width="0.45"/>
<circle cx="569.6" cy="288.1" r="2.8" fill="#1e1e3a" stroke="#111" stroke-width="0.45"/>
<circle cx="572.5" cy="288.7" r="2.8" fill="#1e1e3a" stroke="#111" stroke-width="0.45"/>
<circle cx="576" cy="287.6" r="2.8" fill="#1e1e3a" stroke="#111" stroke-width="0.45"/>
<circle cx="638.8" cy="332.5" r="2.8" fill="#1e1e3a" stroke="#111" stroke-width="0.45"/>
<circle cx="642.4" cy="332.5" r="2.8" fill="#1e1e3a" stroke="#111" stroke-width="0.45"/>
<circle cx="578.1" cy="358.1" r="2.8" fill="#1e1e3a" stroke="#111" stroke-width="0.45"/>
<circle cx="582.3" cy="358.1" r="2.8" fill="#1e1e3a" stroke="#111" stroke-width="0.45"/>
<circle cx="586.7" cy="358.1" r="2.8" fill="#1e1e3a" stroke="#111" stroke-width="0.45"/>
<circle cx="591.1" cy="358.1" r="2.8" fill="#1e1e3a" stroke="#111" stroke-width="0.45"/>
<circle cx="595.5" cy="358.1" r="2.8" fill="#1e1e3a" stroke="#111" stroke-width="0.45"/>
<circle cx="600.4" cy="358.1" r="2.8" fill="#1e1e3a" stroke="#111" stroke-width="0.45"/>
<circle cx="604.3" cy="358.1" r="2.8" fill="#1e1e3a" stroke="#111" stroke-width="0.45"/>
<text x="638.2" y="157.0" font-size="4.0" fill="#222" text-anchor="middle" >1.0</text>
<text x="606.3" y="233.2" font-size="4.0" fill="#222" text-anchor="middle" >1.0</text>
<text x="566.4" y="258.3" font-size="4.0" fill="#222" text-anchor="middle" >1.0</text>
<text x="549.1" y="271.3" font-size="4.0" fill="#222" text-anchor="middle" >1.0</text>
<text x="545.6" y="293.09999999999997" font-size="4.0" fill="#222" text-anchor="middle" >1.0</text>
<text x="489.6" y="303.7" font-size="4.0" fill="#222" text-anchor="middle" >1.0</text>
<text x="487.1" y="326.8" font-size="4.0" fill="#222" text-anchor="middle" >1.0</text>
<text x="459" y="335.3" font-size="4.0" fill="#222" text-anchor="middle" >1.0</text>
<text x="477.1" y="334.9" font-size="4.0" fill="#222" text-anchor="middle" >1.0</text>
<text x="599.5" y="340.4" font-size="4.0" fill="#222" text-anchor="middle" >1.0</text>
<text x="653.7" y="177.2" font-size="5.2" fill="#222" text-anchor="start" textLength="19.4" lengthAdjust="spacingAndGlyphs" >RR, 2002</text>
<text x="566.8" y="302.1" font-size="5.2" fill="#222" text-anchor="start" textLength="20.2" lengthAdjust="spacingAndGlyphs" >TO, 2017</text>
<text x="598.6" y="296.7" font-size="5.2" fill="#222" text-anchor="start" textLength="20.2" lengthAdjust="spacingAndGlyphs" >PA, 2017</text>
<text x="654" y="340.7" font-size="5.2" fill="#222" text-anchor="start" textLength="31" lengthAdjust="spacingAndGlyphs" >SA (CO, 2024)</text>
<text x="593.1" y="372.8" font-size="6.3" fill="#222" text-anchor="middle" textLength="26.5" lengthAdjust="spacingAndGlyphs" >Para, 2025</text>
<text x="447" y="369.4" font-size="6.3" fill="#222" text-anchor="middle" >MG</text>
<text x="447.2" y="376.4" font-size="6.0" fill="#222" text-anchor="middle" textLength="31.2" lengthAdjust="spacingAndGlyphs" >(2023-2025)</text>
<text x="483.6" y="369.4" font-size="6.3" fill="#222" text-anchor="middle" >SP</text>
<text x="484.5" y="376.4" font-size="6.0" fill="#222" text-anchor="middle" textLength="30.9" lengthAdjust="spacingAndGlyphs" >(2023-2024)</text>
<text x="63.9" y="378.4" font-size="8.8" fill="#222" text-anchor="start" textLength="16.3" lengthAdjust="spacingAndGlyphs" >Host</text>
<rect x="87.2" y="373.2" width="14.5" height="4.7" fill="#dc8c48" stroke="#6a4a2a" stroke-width="0.5" />
<text x="104.8" y="378.0" font-size="7.0" fill="#222" text-anchor="start" textLength="21.4" lengthAdjust="spacingAndGlyphs" >Human</text>
<rect x="129.3" y="373.2" width="14.5" height="4.7" fill="#e8e1cd" stroke="#6a6a5a" stroke-width="0.5" />
<text x="146.6" y="378.0" font-size="7.0" fill="#222" text-anchor="start" textLength="28.7" lengthAdjust="spacingAndGlyphs" >Mosquito</text>
<rect x="178.3" y="373.2" width="14.5" height="4.7" fill="#4a8a22" stroke="#2a4a1a" stroke-width="0.5" />
<text x="195.6" y="378.0" font-size="7.0" fill="#222" text-anchor="start" textLength="13.6" lengthAdjust="spacingAndGlyphs" >NHP</text>
<rect x="56.0" y="390.9" width="3.05" height="24.2" fill="#e8e1cd" stroke="none" stroke-width="0.6" shape-rendering="crispEdges"/>
<rect x="59.0" y="390.9" width="5.75" height="24.2" fill="#4a8a22" stroke="none" stroke-width="0.6" shape-rendering="crispEdges"/>
<rect x="64.7" y="390.9" width="2.85" height="24.2" fill="#dc8c48" stroke="none" stroke-width="0.6" shape-rendering="crispEdges"/>
<rect x="67.5" y="390.9" width="5.55" height="24.2" fill="#e8e1cd" stroke="none" stroke-width="0.6" shape-rendering="crispEdges"/>
<rect x="73" y="390.9" width="3.05" height="24.2" fill="#4a8a22" stroke="none" stroke-width="0.6" shape-rendering="crispEdges"/>
<rect x="76" y="390.9" width="3.05" height="24.2" fill="#dc8c48" stroke="none" stroke-width="0.6" shape-rendering="crispEdges"/>
<rect x="79" y="390.9" width="3.05" height="24.2" fill="#4a8a22" stroke="none" stroke-width="0.6" shape-rendering="crispEdges"/>
<rect x="82" y="390.9" width="9.05" height="24.2" fill="#dc8c48" stroke="none" stroke-width="0.6" shape-rendering="crispEdges"/>
<rect x="91" y="390.9" width="3.05" height="24.2" fill="#4a8a22" stroke="none" stroke-width="0.6" shape-rendering="crispEdges"/>
<rect x="94" y="390.9" width="3.05" height="24.2" fill="#e8e1cd" stroke="none" stroke-width="0.6" shape-rendering="crispEdges"/>
<rect x="97" y="390.9" width="3.05" height="24.2" fill="#4a8a22" stroke="none" stroke-width="0.6" shape-rendering="crispEdges"/>
<rect x="100" y="390.9" width="5.55" height="24.2" fill="#dc8c48" stroke="none" stroke-width="0.6" shape-rendering="crispEdges"/>
<rect x="105.5" y="390.9" width="2.85" height="24.2" fill="#4a8a22" stroke="none" stroke-width="0.6" shape-rendering="crispEdges"/>
<rect x="108.3" y="390.9" width="2.85" height="24.2" fill="#dc8c48" stroke="none" stroke-width="0.6" shape-rendering="crispEdges"/>
<rect x="111.1" y="390.9" width="8.85" height="24.2" fill="#4a8a22" stroke="none" stroke-width="0.6" shape-rendering="crispEdges"/>
<rect x="119.9" y="390.9" width="3.15" height="24.2" fill="#dc8c48" stroke="none" stroke-width="0.6" shape-rendering="crispEdges"/>
<rect x="123" y="390.9" width="6.15" height="24.2" fill="#4a8a22" stroke="none" stroke-width="0.6" shape-rendering="crispEdges"/>
<rect x="129.1" y="390.9" width="2.65" height="24.2" fill="#dc8c48" stroke="none" stroke-width="0.6" shape-rendering="crispEdges"/>
<rect x="131.7" y="390.9" width="3.15" height="24.2" fill="#4a8a22" stroke="none" stroke-width="0.6" shape-rendering="crispEdges"/>
<rect x="134.8" y="390.9" width="2.65" height="24.2" fill="#dc8c48" stroke="none" stroke-width="0.6" shape-rendering="crispEdges"/>
<rect x="137.4" y="390.9" width="3.35" height="24.2" fill="#4a8a22" stroke="none" stroke-width="0.6" shape-rendering="crispEdges"/>
<rect x="140.7" y="390.9" width="5.55" height="24.2" fill="#dc8c48" stroke="none" stroke-width="0.6" shape-rendering="crispEdges"/>
<rect x="146.2" y="390.9" width="11.85" height="24.2" fill="#4a8a22" stroke="none" stroke-width="0.6" shape-rendering="crispEdges"/>
<rect x="158" y="390.9" width="3.15" height="24.2" fill="#dc8c48" stroke="none" stroke-width="0.6" shape-rendering="crispEdges"/>
<rect x="161.1" y="390.9" width="8.75" height="24.2" fill="#4a8a22" stroke="none" stroke-width="0.6" shape-rendering="crispEdges"/>
<rect x="169.8" y="390.9" width="3.25" height="24.2" fill="#dc8c48" stroke="none" stroke-width="0.6" shape-rendering="crispEdges"/>
<rect x="173" y="390.9" width="2.85" height="24.2" fill="#4a8a22" stroke="none" stroke-width="0.6" shape-rendering="crispEdges"/>
<rect x="175.8" y="390.9" width="2.95" height="24.2" fill="#dc8c48" stroke="none" stroke-width="0.6" shape-rendering="crispEdges"/>
<rect x="178.7" y="390.9" width="5.65" height="24.2" fill="#4a8a22" stroke="none" stroke-width="0.6" shape-rendering="crispEdges"/>
<rect x="184.3" y="390.9" width="2.75" height="24.2" fill="#dc8c48" stroke="none" stroke-width="0.6" shape-rendering="crispEdges"/>
<rect x="187" y="390.9" width="9.15" height="24.2" fill="#4a8a22" stroke="none" stroke-width="0.6" shape-rendering="crispEdges"/>
<rect x="196.1" y="390.9" width="2.95" height="24.2" fill="#e8e1cd" stroke="none" stroke-width="0.6" shape-rendering="crispEdges"/>
<rect x="199" y="390.9" width="14.65" height="24.2" fill="#4a8a22" stroke="none" stroke-width="0.6" shape-rendering="crispEdges"/>
<rect x="213.6" y="390.9" width="3.05" height="24.2" fill="#dc8c48" stroke="none" stroke-width="0.6" shape-rendering="crispEdges"/>
<rect x="216.6" y="390.9" width="2.65" height="24.2" fill="#4a8a22" stroke="none" stroke-width="0.6" shape-rendering="crispEdges"/>
<rect x="219.2" y="390.9" width="3.05" height="24.2" fill="#dc8c48" stroke="none" stroke-width="0.6" shape-rendering="crispEdges"/>
<rect x="222.2" y="390.9" width="8.85" height="24.2" fill="#4a8a22" stroke="none" stroke-width="0.6" shape-rendering="crispEdges"/>
<rect x="231" y="390.9" width="9.05" height="24.2" fill="#dc8c48" stroke="none" stroke-width="0.6" shape-rendering="crispEdges"/>
<rect x="240" y="390.9" width="67.05" height="24.2" fill="#4a8a22" stroke="none" stroke-width="0.6" shape-rendering="crispEdges"/>
<rect x="307" y="390.9" width="3.05" height="24.2" fill="#dc8c48" stroke="none" stroke-width="0.6" shape-rendering="crispEdges"/>
<rect x="310" y="390.9" width="2.95" height="24.2" fill="#e8e1cd" stroke="none" stroke-width="0.6" shape-rendering="crispEdges"/>
<rect x="312.9" y="390.9" width="3.15" height="24.2" fill="#4a8a22" stroke="none" stroke-width="0.6" shape-rendering="crispEdges"/>
<rect x="316" y="390.9" width="5.75" height="24.2" fill="#dc8c48" stroke="none" stroke-width="0.6" shape-rendering="crispEdges"/>
<rect x="321.7" y="390.9" width="23.45" height="24.2" fill="#4a8a22" stroke="none" stroke-width="0.6" shape-rendering="crispEdges"/>
<rect x="345.1" y="390.9" width="8.15" height="24.2" fill="#dc8c48" stroke="none" stroke-width="0.6" shape-rendering="crispEdges"/>
<rect x="353.2" y="390.9" width="3.55" height="24.2" fill="#4a8a22" stroke="none" stroke-width="0.6" shape-rendering="crispEdges"/>
<rect x="356.7" y="390.9" width="2.55" height="24.2" fill="#dc8c48" stroke="none" stroke-width="0.6" shape-rendering="crispEdges"/>
<rect x="359.2" y="390.9" width="14.85" height="24.2" fill="#4a8a22" stroke="none" stroke-width="0.6" shape-rendering="crispEdges"/>
<rect x="374" y="390.9" width="3.15" height="24.2" fill="#e8e1cd" stroke="none" stroke-width="0.6" shape-rendering="crispEdges"/>
<rect x="377.1" y="390.9" width="5.95" height="24.2" fill="#dc8c48" stroke="none" stroke-width="0.6" shape-rendering="crispEdges"/>
<rect x="383" y="390.9" width="17.15" height="24.2" fill="#4a8a22" stroke="none" stroke-width="0.6" shape-rendering="crispEdges"/>
<rect x="400.1" y="390.9" width="2.85" height="24.2" fill="#e8e1cd" stroke="none" stroke-width="0.6" shape-rendering="crispEdges"/>
<rect x="402.9" y="390.9" width="20.75" height="24.2" fill="#4a8a22" stroke="none" stroke-width="0.6" shape-rendering="crispEdges"/>
<rect x="423.6" y="390.9" width="3.05" height="24.2" fill="#e8e1cd" stroke="none" stroke-width="0.6" shape-rendering="crispEdges"/>
<rect x="426.6" y="390.9" width="2.95" height="24.2" fill="#dc8c48" stroke="none" stroke-width="0.6" shape-rendering="crispEdges"/>
<rect x="429.5" y="390.9" width="20.45" height="24.2" fill="#4a8a22" stroke="none" stroke-width="0.6" shape-rendering="crispEdges"/>
<rect x="449.9" y="390.9" width="5.95" height="24.2" fill="#dc8c48" stroke="none" stroke-width="0.6" shape-rendering="crispEdges"/>
<rect x="455.8" y="390.9" width="3.05" height="24.2" fill="#4a8a22" stroke="none" stroke-width="0.6" shape-rendering="crispEdges"/>
<rect x="458.8" y="390.9" width="2.55" height="24.2" fill="#dc8c48" stroke="none" stroke-width="0.6" shape-rendering="crispEdges"/>
<rect x="461.3" y="390.9" width="11.85" height="24.2" fill="#4a8a22" stroke="none" stroke-width="0.6" shape-rendering="crispEdges"/>
<rect x="473.1" y="390.9" width="2.95" height="24.2" fill="#dc8c48" stroke="none" stroke-width="0.6" shape-rendering="crispEdges"/>
<rect x="476" y="390.9" width="9.15" height="24.2" fill="#4a8a22" stroke="none" stroke-width="0.6" shape-rendering="crispEdges"/>
<rect x="485.1" y="390.9" width="2.95" height="24.2" fill="#dc8c48" stroke="none" stroke-width="0.6" shape-rendering="crispEdges"/>
<rect x="488" y="390.9" width="96.05" height="24.2" fill="#4a8a22" stroke="none" stroke-width="0.6" shape-rendering="crispEdges"/>
<rect x="584" y="390.9" width="32.15" height="24.2" fill="#dc8c48" stroke="none" stroke-width="0.6" shape-rendering="crispEdges"/>
<rect x="616.1" y="390.9" width="14.95" height="24.2" fill="#4a8a22" stroke="none" stroke-width="0.6" shape-rendering="crispEdges"/>
<rect x="631" y="390.9" width="5.95" height="24.2" fill="#dc8c48" stroke="none" stroke-width="0.6" shape-rendering="crispEdges"/>
<rect x="636.9" y="390.9" width="5.55" height="24.2" fill="#4a8a22" stroke="none" stroke-width="0.6" shape-rendering="crispEdges"/>
<rect x="642.4" y="390.9" width="2.95" height="24.2" fill="#dc8c48" stroke="none" stroke-width="0.6" shape-rendering="crispEdges"/>
<rect x="645.3" y="390.9" width="5.85" height="24.2" fill="#e8e1cd" stroke="none" stroke-width="0.6" shape-rendering="crispEdges"/>
<rect x="651.1" y="390.9" width="6.05" height="24.2" fill="#4a8a22" stroke="none" stroke-width="0.6" shape-rendering="crispEdges"/>
<rect x="657.1" y="390.9" width="2.85" height="24.2" fill="#dc8c48" stroke="none" stroke-width="0.6" shape-rendering="crispEdges"/>
<rect x="659.9" y="390.9" width="3.15" height="24.2" fill="#4a8a22" stroke="none" stroke-width="0.6" shape-rendering="crispEdges"/>
</svg></body></html>
